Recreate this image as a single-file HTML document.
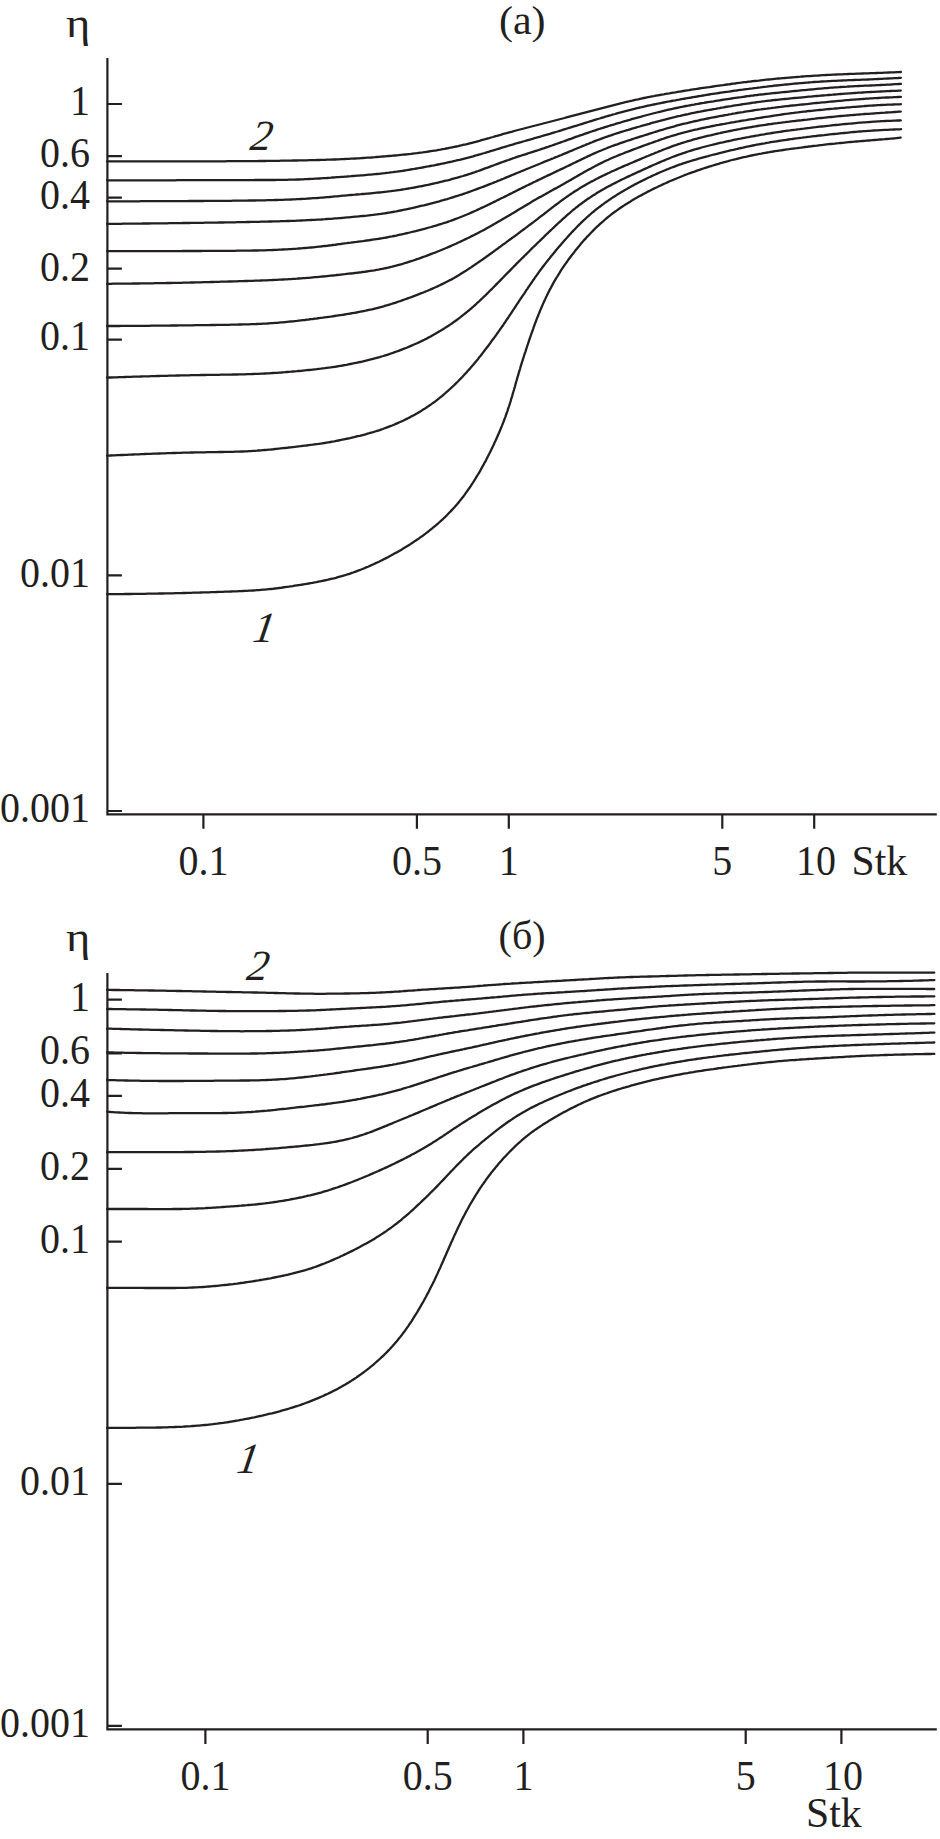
<!DOCTYPE html>
<html><head><meta charset="utf-8"><style>
html,body{margin:0;padding:0;background:#fff;}
body{width:940px;height:1839px;overflow:hidden;}
svg{display:block;}
text{font-family:"Liberation Serif",serif;font-size:43px;fill:#231f20;}
.i{font-style:italic;}
</style></head><body>
<svg width="940" height="1839" viewBox="0 0 940 1839">

<path d="M107.4 58.0V814.3H936.8" fill="none" stroke="#231f20" stroke-width="2.2"/>
<path d="M107.4 104.0H121.9M107.4 156.2H121.9M107.4 197.7H121.9M107.4 268.7H121.9M107.4 339.6H121.9M107.4 575.4H121.9M107.4 811.0H121.9M203.4 814.3V828.8M416.9 814.3V828.8M508.8 814.3V828.8M722.3 814.3V828.8M814.2 814.3V828.8" fill="none" stroke="#231f20" stroke-width="2.2"/>
<path d="M107.4 973.0V1729.4H936.8" fill="none" stroke="#231f20" stroke-width="2.2"/>
<path d="M107.4 999.6H121.9M107.4 1053.3H121.9M107.4 1095.9H121.9M107.4 1168.8H121.9M107.4 1241.7H121.9M107.4 1483.8H121.9M107.4 1725.9H121.9M205.4 1729.4V1743.9M427.7 1729.4V1743.9M523.4 1729.4V1743.9M745.7 1729.4V1743.9M841.4 1729.4V1743.9" fill="none" stroke="#231f20" stroke-width="2.2"/>
<path d="M107.1 161.4L109.1 161.4L111.1 161.4L113.1 161.4L115.1 161.4L117.1 161.4L119.1 161.4L121.1 161.4L123.1 161.4L125.1 161.4L127.1 161.4L129.1 161.4L131.1 161.4L133.1 161.4L135.1 161.4L137.1 161.4L139.1 161.4L141.1 161.4L143.1 161.4L145.1 161.4L147.1 161.4L149.1 161.4L151.1 161.4L153.1 161.4L155.1 161.4L157.1 161.4L159.1 161.4L161.1 161.4L163.1 161.4L165.1 161.4L167.1 161.4L169.1 161.4L171.1 161.4L173.1 161.4L175.1 161.3L177.1 161.3L179.1 161.3L181.1 161.3L183.1 161.3L185.1 161.3L187.1 161.3L189.1 161.3L191.1 161.3L193.1 161.3L195.1 161.3L197.1 161.3L199.1 161.3L201.1 161.3L203.1 161.3L205.1 161.3L207.1 161.3L209.1 161.3L211.1 161.3L213.1 161.3L215.1 161.3L217.1 161.3L219.1 161.3L221.1 161.3L223.1 161.3L225.1 161.3L227.1 161.2L229.1 161.2L231.1 161.2L233.1 161.2L235.1 161.2L237.1 161.2L239.1 161.2L241.1 161.2L243.1 161.2L245.1 161.2L247.1 161.1L249.1 161.1L251.1 161.1L253.1 161.1L255.1 161.1L257.1 161.1L259.1 161.0L261.1 161.0L263.1 161.0L265.1 161.0L267.1 160.9L269.1 160.9L271.1 160.9L273.1 160.9L275.1 160.8L277.1 160.8L279.1 160.8L281.1 160.7L283.1 160.7L285.1 160.7L287.1 160.6L289.1 160.6L291.1 160.6L293.1 160.5L295.1 160.5L297.1 160.5L299.1 160.4L301.1 160.4L303.1 160.3L305.1 160.3L307.1 160.3L309.1 160.2L311.1 160.2L313.1 160.1L315.1 160.1L317.1 160.0L319.1 160.0L321.1 159.9L323.1 159.9L325.1 159.8L327.1 159.7L329.1 159.7L331.1 159.6L333.1 159.5L335.1 159.5L337.1 159.4L339.0 159.3L341.0 159.2L343.0 159.1L345.0 159.0L347.0 158.9L349.0 158.8L351.0 158.7L353.0 158.6L355.0 158.5L357.0 158.4L359.0 158.3L361.0 158.1L363.0 158.0L365.0 157.9L367.0 157.7L369.0 157.6L371.0 157.5L373.0 157.3L375.0 157.2L377.0 157.0L379.0 156.9L381.0 156.7L383.0 156.5L385.0 156.4L386.9 156.2L388.9 156.0L390.9 155.9L392.9 155.7L394.9 155.5L396.9 155.3L398.9 155.1L400.9 154.9L402.9 154.7L404.9 154.5L406.9 154.3L408.8 154.1L410.8 153.9L412.8 153.6L414.8 153.4L416.8 153.2L418.8 152.9L420.8 152.6L422.7 152.4L424.7 152.1L426.7 151.8L428.7 151.5L430.7 151.2L432.6 150.9L434.6 150.6L436.6 150.3L438.5 149.9L440.5 149.6L442.5 149.2L444.5 148.9L446.4 148.5L448.4 148.1L450.3 147.7L452.3 147.3L454.3 146.9L456.2 146.5L458.2 146.1L460.1 145.6L462.1 145.2L464.0 144.7L466.0 144.3L467.9 143.8L469.8 143.3L471.8 142.8L473.7 142.3L475.7 141.8L477.6 141.3L479.5 140.8L481.4 140.2L483.4 139.7L485.3 139.2L487.2 138.6L489.1 138.1L491.1 137.5L493.0 137.0L494.9 136.4L496.8 135.9L498.8 135.3L500.7 134.8L502.6 134.2L504.5 133.7L506.5 133.2L508.4 132.6L510.3 132.1L512.3 131.6L514.2 131.0L516.1 130.5L518.0 130.0L520.0 129.5L521.9 129.0L523.9 128.5L525.8 128.0L527.7 127.5L529.7 127.0L531.6 126.5L533.5 126.0L535.5 125.5L537.4 125.0L539.4 124.5L541.3 124.0L543.2 123.5L545.2 123.0L547.1 122.5L549.0 122.0L551.0 121.5L552.9 121.0L554.8 120.5L556.8 120.0L558.7 119.5L560.6 119.0L562.6 118.5L564.5 118.0L566.4 117.4L568.4 116.9L570.3 116.4L572.2 115.9L574.2 115.4L576.1 114.9L578.0 114.4L580.0 113.8L581.9 113.3L583.8 112.8L585.8 112.3L587.7 111.8L589.6 111.3L591.6 110.8L593.5 110.3L595.4 109.8L597.4 109.3L599.3 108.8L601.2 108.3L603.2 107.8L605.1 107.3L607.1 106.8L609.0 106.3L610.9 105.8L612.9 105.3L614.8 104.8L616.8 104.3L618.7 103.8L620.6 103.3L622.6 102.9L624.5 102.4L626.5 101.9L628.4 101.5L630.4 101.0L632.3 100.6L634.3 100.1L636.2 99.7L638.2 99.3L640.1 98.8L642.1 98.4L644.0 98.0L646.0 97.6L648.0 97.2L649.9 96.8L651.9 96.4L653.8 96.1L655.8 95.7L657.8 95.3L659.7 95.0L661.7 94.6L663.7 94.3L665.7 93.9L667.6 93.6L669.6 93.3L671.6 92.9L673.5 92.6L675.5 92.3L677.5 91.9L679.5 91.6L681.4 91.3L683.4 91.0L685.4 90.7L687.4 90.4L689.3 90.1L691.3 89.7L693.3 89.4L695.3 89.1L697.2 88.8L699.2 88.5L701.2 88.2L703.2 87.9L705.2 87.6L707.1 87.3L709.1 87.1L711.1 86.8L713.1 86.5L715.0 86.2L717.0 85.9L719.0 85.6L721.0 85.3L723.0 85.1L724.9 84.8L726.9 84.5L728.9 84.3L730.9 84.0L732.9 83.7L734.9 83.5L736.8 83.2L738.8 82.9L740.8 82.7L742.8 82.4L744.8 82.2L746.8 82.0L748.7 81.7L750.7 81.5L752.7 81.2L754.7 81.0L756.7 80.8L758.7 80.6L760.7 80.3L762.7 80.1L764.6 79.9L766.6 79.7L768.6 79.5L770.6 79.3L772.6 79.1L774.6 78.9L776.6 78.7L778.6 78.5L780.6 78.3L782.6 78.1L784.6 78.0L786.5 77.8L788.5 77.6L790.5 77.5L792.5 77.3L794.5 77.1L796.5 77.0L798.5 76.8L800.5 76.7L802.5 76.5L804.5 76.4L806.5 76.2L808.5 76.1L810.5 76.0L812.5 75.8L814.5 75.7L816.5 75.6L818.5 75.5L820.5 75.3L822.5 75.2L824.4 75.1L826.4 75.0L828.4 74.9L830.4 74.8L832.4 74.7L834.4 74.6L836.4 74.5L838.4 74.4L840.4 74.3L842.4 74.3L844.4 74.2L846.4 74.1L848.4 74.0L850.4 73.9L852.4 73.9L854.4 73.8L856.4 73.7L858.4 73.6L860.4 73.6L862.4 73.5L864.4 73.4L866.4 73.4L868.4 73.3L870.4 73.2L872.4 73.1L874.4 73.1L876.4 73.0L878.4 72.9L880.4 72.8L882.4 72.8L884.4 72.7L886.4 72.6L888.4 72.5L890.4 72.4L892.4 72.4L894.4 72.3L896.4 72.2L898.4 72.1L900.4 72.0L900.9 72.0" fill="none" stroke="#231f20" stroke-width="2.3" stroke-linecap="round" stroke-linejoin="round"/>
<path d="M107.1 180.3L109.1 180.3L111.1 180.3L113.1 180.3L115.1 180.3L117.1 180.3L119.1 180.3L121.1 180.3L123.1 180.3L125.1 180.3L127.1 180.3L129.1 180.3L131.1 180.3L133.1 180.3L135.1 180.3L137.1 180.3L139.1 180.3L141.1 180.3L143.1 180.3L145.1 180.3L147.1 180.3L149.1 180.3L151.1 180.3L153.1 180.3L155.1 180.3L157.1 180.3L159.1 180.3L161.1 180.3L163.1 180.3L165.1 180.3L167.1 180.3L169.1 180.3L171.1 180.3L173.1 180.3L175.1 180.3L177.1 180.2L179.1 180.2L181.1 180.2L183.1 180.2L185.1 180.2L187.1 180.2L189.1 180.2L191.1 180.2L193.1 180.2L195.1 180.2L197.1 180.2L199.1 180.2L201.1 180.2L203.1 180.2L205.1 180.2L207.1 180.2L209.1 180.2L211.1 180.2L213.1 180.2L215.1 180.2L217.1 180.2L219.1 180.1L221.1 180.1L223.1 180.1L225.1 180.1L227.1 180.1L229.1 180.1L231.1 180.1L233.1 180.1L235.1 180.1L237.1 180.1L239.1 180.1L241.1 180.1L243.1 180.1L245.1 180.1L247.1 180.1L249.1 180.1L251.1 180.1L253.1 180.1L255.1 180.0L257.1 180.0L259.1 180.0L261.1 180.0L263.1 180.0L265.1 180.0L267.1 180.0L269.1 180.0L271.1 180.0L273.1 180.0L275.1 180.0L277.1 179.9L279.1 179.9L281.1 179.9L283.1 179.9L285.1 179.8L287.1 179.8L289.1 179.7L291.1 179.7L293.1 179.7L295.1 179.6L297.1 179.5L299.1 179.5L301.1 179.4L303.1 179.3L305.1 179.2L307.1 179.1L309.1 179.0L311.1 178.9L313.1 178.8L315.0 178.7L317.0 178.6L319.0 178.5L321.0 178.4L323.0 178.2L325.0 178.1L327.0 178.0L329.0 177.8L331.0 177.7L333.0 177.5L335.0 177.4L337.0 177.2L339.0 177.1L341.0 176.9L343.0 176.8L345.0 176.6L347.0 176.5L349.0 176.3L351.0 176.2L353.0 176.0L354.9 175.9L356.9 175.7L358.9 175.6L360.9 175.4L362.9 175.3L364.9 175.1L366.9 174.9L368.9 174.7L370.9 174.6L372.9 174.4L374.9 174.2L376.9 174.0L378.9 173.8L380.8 173.6L382.8 173.4L384.8 173.2L386.8 172.9L388.8 172.7L390.8 172.4L392.8 172.2L394.7 171.9L396.7 171.7L398.7 171.4L400.7 171.1L402.7 170.8L404.6 170.5L406.6 170.2L408.6 169.8L410.6 169.5L412.5 169.2L414.5 168.9L416.5 168.5L418.4 168.2L420.4 167.8L422.4 167.5L424.4 167.1L426.3 166.7L428.3 166.4L430.3 166.0L432.2 165.6L434.2 165.3L436.1 164.9L438.1 164.5L440.1 164.1L442.0 163.7L444.0 163.3L445.9 162.9L447.9 162.4L449.8 162.0L451.8 161.6L453.8 161.1L455.7 160.7L457.6 160.2L459.6 159.8L461.5 159.3L463.5 158.8L465.4 158.3L467.3 157.8L469.3 157.3L471.2 156.8L473.1 156.3L475.1 155.7L477.0 155.2L478.9 154.6L480.8 154.1L482.8 153.5L484.7 153.0L486.6 152.4L488.5 151.8L490.4 151.2L492.3 150.7L494.3 150.1L496.2 149.5L498.1 148.9L500.0 148.3L501.9 147.7L503.8 147.2L505.7 146.6L507.7 146.0L509.6 145.4L511.5 144.9L513.4 144.3L515.3 143.7L517.2 143.2L519.2 142.6L521.1 142.1L523.0 141.5L524.9 141.0L526.9 140.4L528.8 139.9L530.7 139.3L532.6 138.8L534.5 138.2L536.5 137.7L538.4 137.1L540.3 136.6L542.2 136.0L544.2 135.4L546.1 134.9L548.0 134.3L549.9 133.8L551.8 133.2L553.7 132.6L555.7 132.0L557.6 131.5L559.5 130.9L561.4 130.3L563.3 129.7L565.2 129.1L567.1 128.5L569.0 127.9L571.0 127.3L572.9 126.7L574.8 126.1L576.7 125.6L578.6 125.0L580.5 124.4L582.4 123.8L584.3 123.2L586.2 122.6L588.1 122.0L590.0 121.4L592.0 120.8L593.9 120.2L595.8 119.6L597.7 119.0L599.6 118.5L601.5 117.9L603.4 117.3L605.4 116.7L607.3 116.2L609.2 115.6L611.1 115.1L613.0 114.5L615.0 114.0L616.9 113.4L618.8 112.9L620.7 112.4L622.7 111.8L624.6 111.3L626.5 110.8L628.5 110.3L630.4 109.8L632.4 109.3L634.3 108.9L636.2 108.4L638.2 107.9L640.1 107.5L642.1 107.0L644.0 106.6L646.0 106.1L647.9 105.7L649.9 105.3L651.9 104.9L653.8 104.5L655.8 104.1L657.7 103.7L659.7 103.3L661.7 102.9L663.6 102.5L665.6 102.1L667.5 101.7L669.5 101.4L671.5 101.0L673.4 100.6L675.4 100.3L677.4 99.9L679.3 99.6L681.3 99.2L683.3 98.8L685.2 98.5L687.2 98.2L689.2 97.8L691.2 97.5L693.1 97.1L695.1 96.8L697.1 96.5L699.0 96.1L701.0 95.8L703.0 95.5L705.0 95.2L706.9 94.8L708.9 94.5L710.9 94.2L712.9 93.9L714.8 93.6L716.8 93.3L718.8 93.0L720.8 92.7L722.8 92.4L724.7 92.1L726.7 91.8L728.7 91.6L730.7 91.3L732.7 91.0L734.6 90.7L736.6 90.5L738.6 90.2L740.6 89.9L742.6 89.7L744.6 89.4L746.5 89.1L748.5 88.9L750.5 88.6L752.5 88.4L754.5 88.1L756.5 87.9L758.4 87.6L760.4 87.4L762.4 87.1L764.4 86.9L766.4 86.7L768.4 86.4L770.4 86.2L772.3 86.0L774.3 85.7L776.3 85.5L778.3 85.3L780.3 85.1L782.3 84.9L784.3 84.7L786.3 84.5L788.2 84.3L790.2 84.1L792.2 83.9L794.2 83.7L796.2 83.5L798.2 83.3L800.2 83.1L802.2 83.0L804.2 82.8L806.2 82.6L808.2 82.5L810.2 82.3L812.2 82.2L814.2 82.0L816.1 81.9L818.1 81.8L820.1 81.6L822.1 81.5L824.1 81.4L826.1 81.3L828.1 81.2L830.1 81.1L832.1 80.9L834.1 80.8L836.1 80.8L838.1 80.7L840.1 80.6L842.1 80.5L844.1 80.4L846.1 80.3L848.1 80.2L850.1 80.2L852.1 80.1L854.1 80.0L856.1 79.9L858.1 79.9L860.1 79.8L862.1 79.7L864.1 79.6L866.1 79.6L868.1 79.5L870.1 79.4L872.1 79.3L874.1 79.2L876.1 79.1L878.1 79.0L880.1 78.9L882.1 78.8L884.1 78.7L886.1 78.6L888.1 78.5L890.1 78.4L892.1 78.3L894.1 78.2L896.1 78.1L898.0 78.0L900.0 77.8L900.9 77.8" fill="none" stroke="#231f20" stroke-width="2.3" stroke-linecap="round" stroke-linejoin="round"/>
<path d="M107.1 201.3L109.1 201.3L111.1 201.3L113.1 201.3L115.1 201.3L117.1 201.3L119.1 201.3L121.1 201.3L123.1 201.3L125.1 201.3L127.1 201.3L129.1 201.3L131.1 201.3L133.1 201.3L135.1 201.3L137.1 201.3L139.1 201.3L141.1 201.2L143.1 201.2L145.1 201.2L147.1 201.2L149.1 201.2L151.1 201.2L153.1 201.2L155.1 201.2L157.1 201.2L159.1 201.2L161.1 201.2L163.1 201.2L165.1 201.2L167.1 201.2L169.1 201.1L171.1 201.1L173.1 201.1L175.1 201.1L177.1 201.1L179.1 201.1L181.1 201.1L183.1 201.1L185.1 201.1L187.1 201.1L189.1 201.0L191.1 201.0L193.1 201.0L195.1 201.0L197.1 201.0L199.1 201.0L201.1 201.0L203.1 201.0L205.1 200.9L207.1 200.9L209.1 200.9L211.1 200.9L213.1 200.9L215.1 200.9L217.1 200.9L219.1 200.9L221.1 200.8L223.1 200.8L225.1 200.8L227.1 200.8L229.1 200.8L231.1 200.8L233.1 200.7L235.1 200.7L237.1 200.7L239.1 200.7L241.1 200.7L243.1 200.6L245.1 200.6L247.1 200.6L249.1 200.5L251.1 200.5L253.1 200.5L255.1 200.5L257.1 200.4L259.1 200.4L261.1 200.4L263.1 200.3L265.1 200.3L267.1 200.2L269.1 200.2L271.1 200.1L273.1 200.1L275.1 200.0L277.1 200.0L279.1 199.9L281.1 199.9L283.1 199.8L285.1 199.7L287.1 199.6L289.1 199.6L291.1 199.5L293.1 199.4L295.0 199.3L297.0 199.2L299.0 199.1L301.0 199.0L303.0 198.9L305.0 198.8L307.0 198.6L309.0 198.5L311.0 198.4L313.0 198.2L315.0 198.1L317.0 198.0L319.0 197.8L321.0 197.6L323.0 197.5L325.0 197.3L327.0 197.1L329.0 197.0L331.0 196.8L333.0 196.6L334.9 196.4L336.9 196.3L338.9 196.1L340.9 195.9L342.9 195.7L344.9 195.6L346.9 195.4L348.9 195.2L350.9 195.0L352.9 194.8L354.9 194.7L356.9 194.5L358.9 194.3L360.8 194.2L362.8 194.0L364.8 193.8L366.8 193.6L368.8 193.5L370.8 193.3L372.8 193.1L374.8 192.9L376.8 192.7L378.8 192.5L380.8 192.3L382.7 192.1L384.7 191.9L386.7 191.7L388.7 191.4L390.7 191.2L392.7 190.9L394.7 190.7L396.6 190.4L398.6 190.1L400.6 189.8L402.6 189.5L404.5 189.2L406.5 188.8L408.5 188.5L410.5 188.2L412.4 187.8L414.4 187.5L416.4 187.1L418.3 186.7L420.3 186.3L422.3 186.0L424.2 185.6L426.2 185.2L428.1 184.8L430.1 184.3L432.0 183.9L434.0 183.5L436.0 183.0L437.9 182.6L439.8 182.1L441.8 181.7L443.7 181.2L445.7 180.7L447.6 180.3L449.6 179.8L451.5 179.2L453.4 178.7L455.4 178.2L457.3 177.7L459.2 177.1L461.1 176.5L463.0 176.0L464.9 175.4L466.9 174.8L468.8 174.2L470.7 173.6L472.6 172.9L474.5 172.3L476.3 171.6L478.2 171.0L480.1 170.3L482.0 169.6L483.9 168.9L485.8 168.2L487.6 167.6L489.5 166.9L491.4 166.2L493.3 165.5L495.1 164.8L497.0 164.1L498.9 163.4L500.8 162.7L502.6 162.0L504.5 161.3L506.4 160.6L508.3 160.0L510.2 159.3L512.1 158.7L514.0 158.0L515.8 157.4L517.7 156.7L519.6 156.1L521.5 155.5L523.4 154.9L525.4 154.3L527.3 153.6L529.2 153.0L531.1 152.4L533.0 151.8L534.9 151.2L536.8 150.6L538.7 150.0L540.6 149.3L542.5 148.7L544.4 148.1L546.3 147.4L548.2 146.8L550.0 146.1L551.9 145.5L553.8 144.8L555.7 144.2L557.6 143.5L559.5 142.8L561.4 142.1L563.2 141.5L565.1 140.8L567.0 140.1L568.9 139.4L570.8 138.8L572.7 138.1L574.5 137.4L576.4 136.7L578.3 136.1L580.2 135.4L582.1 134.8L584.0 134.1L585.9 133.4L587.8 132.8L589.7 132.2L591.6 131.5L593.4 130.9L595.3 130.3L597.2 129.6L599.2 129.0L601.1 128.4L603.0 127.8L604.9 127.2L606.8 126.6L608.7 126.0L610.6 125.4L612.5 124.8L614.4 124.3L616.3 123.7L618.3 123.1L620.2 122.6L622.1 122.0L624.0 121.4L625.9 120.9L627.9 120.3L629.8 119.8L631.7 119.2L633.6 118.7L635.6 118.2L637.5 117.6L639.4 117.1L641.3 116.6L643.3 116.0L645.2 115.5L647.1 115.0L649.1 114.5L651.0 114.0L652.9 113.5L654.9 113.0L656.8 112.5L658.8 112.0L660.7 111.6L662.7 111.1L664.6 110.6L666.5 110.2L668.5 109.7L670.4 109.3L672.4 108.9L674.4 108.4L676.3 108.0L678.3 107.6L680.2 107.2L682.2 106.8L684.1 106.4L686.1 106.0L688.1 105.7L690.0 105.3L692.0 104.9L694.0 104.6L695.9 104.2L697.9 103.9L699.9 103.5L701.9 103.2L703.8 102.9L705.8 102.5L707.8 102.2L709.8 101.9L711.7 101.6L713.7 101.3L715.7 100.9L717.7 100.6L719.6 100.3L721.6 100.0L723.6 99.7L725.6 99.4L727.5 99.1L729.5 98.8L731.5 98.5L733.5 98.2L735.4 97.9L737.4 97.6L739.4 97.3L741.4 97.1L743.4 96.8L745.3 96.5L747.3 96.2L749.3 96.0L751.3 95.7L753.3 95.5L755.3 95.2L757.2 95.0L759.2 94.7L761.2 94.5L763.2 94.3L765.2 94.0L767.2 93.8L769.2 93.6L771.2 93.4L773.1 93.2L775.1 93.0L777.1 92.8L779.1 92.6L781.1 92.4L783.1 92.2L785.1 92.0L787.1 91.8L789.1 91.6L791.1 91.4L793.0 91.2L795.0 91.0L797.0 90.8L799.0 90.6L801.0 90.4L803.0 90.2L805.0 90.1L807.0 89.9L809.0 89.7L811.0 89.5L813.0 89.3L814.9 89.1L816.9 88.9L818.9 88.7L820.9 88.6L822.9 88.4L824.9 88.2L826.9 88.1L828.9 87.9L830.9 87.7L832.9 87.6L834.9 87.4L836.9 87.3L838.9 87.2L840.9 87.0L842.9 86.9L844.9 86.8L846.9 86.7L848.8 86.5L850.8 86.4L852.8 86.3L854.8 86.2L856.8 86.1L858.8 86.0L860.8 85.9L862.8 85.8L864.8 85.7L866.8 85.6L868.8 85.6L870.8 85.5L872.8 85.4L874.8 85.3L876.8 85.2L878.8 85.1L880.8 85.0L882.8 84.9L884.8 84.8L886.8 84.7L888.8 84.6L890.8 84.5L892.8 84.3L894.8 84.2L896.8 84.1L898.8 84.0L900.8 83.9L901.0 83.9" fill="none" stroke="#231f20" stroke-width="2.3" stroke-linecap="round" stroke-linejoin="round"/>
<path d="M107.1 223.9L109.1 223.9L111.1 223.9L113.1 223.8L115.1 223.8L117.1 223.8L119.1 223.8L121.1 223.8L123.1 223.7L125.1 223.7L127.1 223.7L129.1 223.7L131.1 223.7L133.1 223.6L135.1 223.6L137.1 223.6L139.1 223.6L141.1 223.6L143.1 223.5L145.1 223.5L147.1 223.5L149.1 223.5L151.1 223.4L153.1 223.4L155.1 223.4L157.1 223.4L159.1 223.4L161.1 223.3L163.1 223.3L165.1 223.3L167.1 223.3L169.1 223.2L171.1 223.2L173.1 223.2L175.1 223.2L177.1 223.1L179.1 223.1L181.1 223.1L183.1 223.0L185.1 223.0L187.1 223.0L189.1 223.0L191.1 222.9L193.1 222.9L195.1 222.9L197.1 222.9L199.1 222.8L201.1 222.8L203.1 222.8L205.1 222.7L207.1 222.7L209.1 222.7L211.1 222.6L213.1 222.6L215.1 222.6L217.1 222.6L219.1 222.5L221.1 222.5L223.1 222.5L225.1 222.4L227.1 222.4L229.1 222.4L231.1 222.3L233.1 222.3L235.1 222.3L237.1 222.2L239.1 222.2L241.1 222.1L243.1 222.1L245.1 222.1L247.1 222.0L249.1 222.0L251.1 221.9L253.1 221.9L255.1 221.9L257.1 221.8L259.1 221.8L261.1 221.7L263.1 221.7L265.1 221.6L267.1 221.6L269.1 221.5L271.1 221.5L273.1 221.4L275.0 221.4L277.0 221.3L279.0 221.3L281.0 221.2L283.0 221.2L285.0 221.1L287.0 221.0L289.0 221.0L291.0 220.9L293.0 220.8L295.0 220.8L297.0 220.7L299.0 220.6L301.0 220.5L303.0 220.4L305.0 220.3L307.0 220.2L309.0 220.1L311.0 220.0L313.0 219.9L315.0 219.8L317.0 219.7L319.0 219.6L321.0 219.5L323.0 219.3L325.0 219.2L327.0 219.0L329.0 218.9L331.0 218.8L333.0 218.6L335.0 218.4L337.0 218.3L339.0 218.1L340.9 218.0L342.9 217.8L344.9 217.6L346.9 217.4L348.9 217.3L350.9 217.1L352.9 216.9L354.9 216.7L356.9 216.6L358.9 216.4L360.9 216.2L362.9 216.0L364.8 215.8L366.8 215.6L368.8 215.3L370.8 215.1L372.8 214.9L374.8 214.6L376.8 214.4L378.8 214.1L380.7 213.9L382.7 213.6L384.7 213.3L386.7 213.0L388.6 212.6L390.6 212.3L392.6 212.0L394.6 211.6L396.5 211.3L398.5 210.9L400.4 210.5L402.4 210.1L404.4 209.7L406.3 209.3L408.3 208.9L410.2 208.5L412.2 208.0L414.1 207.6L416.1 207.1L418.0 206.7L420.0 206.2L421.9 205.7L423.9 205.3L425.8 204.8L427.8 204.3L429.7 203.8L431.6 203.3L433.6 202.8L435.5 202.3L437.4 201.8L439.4 201.3L441.3 200.7L443.2 200.2L445.1 199.6L447.1 199.1L449.0 198.5L450.9 197.9L452.8 197.3L454.7 196.7L456.6 196.1L458.5 195.5L460.4 194.9L462.3 194.3L464.2 193.6L466.1 193.0L468.0 192.3L469.9 191.7L471.8 191.0L473.6 190.3L475.5 189.6L477.4 188.9L479.3 188.2L481.1 187.5L483.0 186.8L484.9 186.1L486.7 185.4L488.6 184.6L490.5 183.9L492.3 183.2L494.2 182.4L496.0 181.7L497.9 180.9L499.7 180.2L501.6 179.4L503.4 178.7L505.3 177.9L507.1 177.1L509.0 176.4L510.8 175.6L512.7 174.8L514.5 174.1L516.4 173.3L518.2 172.5L520.1 171.8L521.9 171.0L523.8 170.3L525.6 169.5L527.5 168.7L529.3 168.0L531.2 167.2L533.0 166.5L534.9 165.7L536.7 165.0L538.6 164.2L540.4 163.5L542.3 162.7L544.1 161.9L546.0 161.2L547.9 160.4L549.7 159.7L551.6 158.9L553.4 158.2L555.3 157.4L557.1 156.7L559.0 155.9L560.8 155.2L562.7 154.4L564.5 153.6L566.4 152.9L568.2 152.1L570.1 151.3L571.9 150.6L573.7 149.8L575.6 149.0L577.4 148.2L579.3 147.5L581.1 146.7L583.0 145.9L584.8 145.2L586.7 144.4L588.5 143.7L590.4 142.9L592.2 142.2L594.1 141.4L596.0 140.7L597.8 140.0L599.7 139.3L601.6 138.6L603.5 137.9L605.3 137.2L607.2 136.6L609.1 135.9L611.0 135.3L612.9 134.6L614.8 134.0L616.7 133.4L618.6 132.8L620.5 132.2L622.4 131.6L624.3 131.0L626.3 130.4L628.2 129.9L630.1 129.3L632.0 128.7L633.9 128.2L635.8 127.6L637.8 127.0L639.7 126.5L641.6 125.9L643.5 125.4L645.5 124.8L647.4 124.3L649.3 123.8L651.2 123.2L653.2 122.7L655.1 122.2L657.0 121.6L659.0 121.1L660.9 120.6L662.8 120.1L664.8 119.6L666.7 119.1L668.6 118.6L670.6 118.1L672.5 117.6L674.5 117.2L676.4 116.7L678.3 116.2L680.3 115.8L682.2 115.3L684.2 114.9L686.2 114.5L688.1 114.1L690.1 113.6L692.0 113.2L694.0 112.8L695.9 112.4L697.9 112.0L699.9 111.7L701.8 111.3L703.8 110.9L705.8 110.5L707.7 110.2L709.7 109.8L711.7 109.5L713.6 109.1L715.6 108.8L717.6 108.4L719.5 108.1L721.5 107.7L723.5 107.4L725.5 107.0L727.4 106.7L729.4 106.4L731.4 106.1L733.3 105.7L735.3 105.4L737.3 105.1L739.3 104.8L741.2 104.5L743.2 104.2L745.2 103.9L747.2 103.6L749.2 103.3L751.1 103.0L753.1 102.7L755.1 102.5L757.1 102.2L759.1 101.9L761.0 101.7L763.0 101.4L765.0 101.2L767.0 100.9L769.0 100.7L771.0 100.5L773.0 100.2L775.0 100.0L776.9 99.8L778.9 99.6L780.9 99.4L782.9 99.2L784.9 99.0L786.9 98.8L788.9 98.6L790.9 98.4L792.9 98.2L794.8 98.0L796.8 97.8L798.8 97.6L800.8 97.5L802.8 97.3L804.8 97.1L806.8 96.9L808.8 96.7L810.8 96.6L812.8 96.4L814.8 96.2L816.8 96.0L818.8 95.9L820.7 95.7L822.7 95.5L824.7 95.3L826.7 95.2L828.7 95.0L830.7 94.8L832.7 94.7L834.7 94.5L836.7 94.4L838.7 94.2L840.7 94.0L842.7 93.9L844.7 93.7L846.7 93.6L848.7 93.4L850.6 93.3L852.6 93.1L854.6 93.0L856.6 92.9L858.6 92.7L860.6 92.6L862.6 92.5L864.6 92.4L866.6 92.2L868.6 92.1L870.6 92.0L872.6 91.9L874.6 91.8L876.6 91.7L878.6 91.6L880.6 91.5L882.6 91.4L884.6 91.3L886.6 91.2L888.6 91.1L890.6 91.0L892.6 90.9L894.6 90.9L896.6 90.8L898.6 90.7L900.6 90.6L900.8 90.6" fill="none" stroke="#231f20" stroke-width="2.3" stroke-linecap="round" stroke-linejoin="round"/>
<path d="M107.1 251.2L109.1 251.2L111.1 251.2L113.1 251.2L115.1 251.2L117.1 251.2L119.1 251.2L121.1 251.2L123.1 251.2L125.1 251.2L127.1 251.2L129.1 251.2L131.1 251.2L133.1 251.2L135.1 251.2L137.1 251.2L139.1 251.2L141.1 251.2L143.1 251.2L145.1 251.2L147.1 251.2L149.1 251.2L151.1 251.1L153.1 251.1L155.1 251.1L157.1 251.1L159.1 251.1L161.1 251.1L163.1 251.1L165.1 251.1L167.1 251.1L169.1 251.1L171.1 251.1L173.1 251.1L175.1 251.1L177.1 251.1L179.1 251.1L181.1 251.1L183.1 251.0L185.1 251.0L187.1 251.0L189.1 251.0L191.1 251.0L193.1 251.0L195.1 251.0L197.1 251.0L199.1 251.0L201.1 251.0L203.1 250.9L205.1 250.9L207.1 250.9L209.1 250.9L211.1 250.9L213.1 250.9L215.1 250.9L217.1 250.9L219.1 250.9L221.1 250.9L223.1 250.8L225.1 250.8L227.1 250.8L229.1 250.8L231.1 250.8L233.1 250.8L235.1 250.8L237.1 250.7L239.1 250.7L241.1 250.7L243.1 250.7L245.1 250.7L247.1 250.6L249.1 250.6L251.1 250.6L253.1 250.5L255.1 250.5L257.1 250.5L259.1 250.4L261.1 250.4L263.1 250.3L265.1 250.3L267.1 250.2L269.1 250.1L271.1 250.1L273.1 250.0L275.1 249.9L277.1 249.8L279.1 249.7L281.1 249.6L283.1 249.5L285.0 249.4L287.0 249.3L289.0 249.2L291.0 249.1L293.0 248.9L295.0 248.8L297.0 248.7L299.0 248.5L301.0 248.4L303.0 248.2L305.0 248.0L307.0 247.9L309.0 247.7L311.0 247.5L313.0 247.3L315.0 247.1L316.9 246.9L318.9 246.7L320.9 246.5L322.9 246.2L324.9 246.0L326.9 245.8L328.9 245.5L330.8 245.3L332.8 245.0L334.8 244.8L336.8 244.5L338.8 244.2L340.8 244.0L342.7 243.7L344.7 243.4L346.7 243.2L348.7 242.9L350.7 242.7L352.7 242.4L354.6 242.1L356.6 241.9L358.6 241.6L360.6 241.3L362.6 241.1L364.6 240.8L366.5 240.5L368.5 240.3L370.5 240.0L372.5 239.7L374.5 239.4L376.4 239.1L378.4 238.8L380.4 238.5L382.4 238.2L384.3 237.8L386.3 237.5L388.3 237.1L390.2 236.7L392.2 236.4L394.2 236.0L396.1 235.6L398.1 235.1L400.0 234.7L402.0 234.3L403.9 233.9L405.9 233.4L407.8 233.0L409.8 232.5L411.7 232.0L413.7 231.5L415.6 231.1L417.5 230.6L419.5 230.1L421.4 229.6L423.3 229.1L425.3 228.6L427.2 228.0L429.1 227.5L431.1 227.0L433.0 226.4L434.9 225.9L436.8 225.3L438.7 224.7L440.7 224.1L442.6 223.5L444.5 222.9L446.4 222.3L448.3 221.6L450.1 221.0L452.0 220.3L453.9 219.6L455.8 218.9L457.6 218.2L459.5 217.5L461.4 216.7L463.2 216.0L465.1 215.2L466.9 214.5L468.8 213.7L470.6 212.9L472.4 212.1L474.3 211.3L476.1 210.5L477.9 209.6L479.7 208.8L481.5 207.9L483.3 207.1L485.2 206.2L487.0 205.4L488.8 204.5L490.6 203.6L492.4 202.8L494.2 201.9L496.0 201.0L497.7 200.1L499.5 199.2L501.3 198.3L503.1 197.5L504.9 196.6L506.7 195.7L508.5 194.8L510.3 193.9L512.1 193.0L513.8 192.1L515.6 191.2L517.4 190.3L519.2 189.4L521.0 188.5L522.8 187.6L524.6 186.7L526.4 185.8L528.2 185.0L530.0 184.1L531.8 183.2L533.6 182.3L535.4 181.5L537.2 180.6L539.0 179.7L540.8 178.9L542.6 178.0L544.4 177.1L546.2 176.3L548.0 175.4L549.8 174.6L551.6 173.7L553.4 172.9L555.2 172.0L557.0 171.1L558.8 170.3L560.7 169.4L562.5 168.6L564.3 167.7L566.1 166.8L567.9 166.0L569.7 165.1L571.5 164.2L573.3 163.3L575.1 162.5L576.9 161.6L578.7 160.7L580.5 159.9L582.3 159.0L584.1 158.1L585.9 157.3L587.7 156.4L589.5 155.6L591.3 154.7L593.1 153.9L595.0 153.1L596.8 152.3L598.6 151.5L600.5 150.7L602.3 150.0L604.2 149.2L606.0 148.5L607.9 147.7L609.8 147.0L611.6 146.3L613.5 145.6L615.4 144.9L617.3 144.3L619.2 143.6L621.0 142.9L622.9 142.3L624.8 141.7L626.7 141.0L628.6 140.4L630.5 139.8L632.4 139.1L634.3 138.5L636.2 137.9L638.1 137.3L640.0 136.7L642.0 136.1L643.9 135.5L645.8 134.9L647.7 134.3L649.6 133.7L651.5 133.1L653.4 132.5L655.3 131.9L657.2 131.3L659.1 130.7L661.0 130.1L663.0 129.6L664.9 129.0L666.8 128.4L668.7 127.9L670.6 127.3L672.6 126.8L674.5 126.3L676.4 125.7L678.4 125.2L680.3 124.7L682.2 124.2L684.2 123.7L686.1 123.3L688.1 122.8L690.0 122.3L692.0 121.9L693.9 121.4L695.9 121.0L697.8 120.6L699.8 120.1L701.7 119.7L703.7 119.3L705.6 118.9L707.6 118.5L709.6 118.1L711.5 117.7L713.5 117.3L715.4 117.0L717.4 116.6L719.4 116.2L721.3 115.8L723.3 115.5L725.3 115.1L727.2 114.8L729.2 114.4L731.2 114.1L733.1 113.7L735.1 113.4L737.1 113.0L739.1 112.7L741.0 112.4L743.0 112.1L745.0 111.7L747.0 111.4L748.9 111.1L750.9 110.8L752.9 110.5L754.9 110.2L756.8 109.9L758.8 109.6L760.8 109.4L762.8 109.1L764.8 108.8L766.8 108.6L768.7 108.3L770.7 108.1L772.7 107.8L774.7 107.6L776.7 107.3L778.7 107.1L780.7 106.9L782.6 106.6L784.6 106.4L786.6 106.2L788.6 106.0L790.6 105.7L792.6 105.5L794.6 105.3L796.6 105.1L798.5 104.9L800.5 104.7L802.5 104.5L804.5 104.3L806.5 104.1L808.5 103.9L810.5 103.6L812.5 103.4L814.5 103.2L816.4 103.0L818.4 102.8L820.4 102.6L822.4 102.4L824.4 102.3L826.4 102.1L828.4 101.9L830.4 101.7L832.4 101.5L834.4 101.3L836.4 101.1L838.3 100.9L840.3 100.8L842.3 100.6L844.3 100.4L846.3 100.2L848.3 100.1L850.3 99.9L852.3 99.7L854.3 99.6L856.3 99.4L858.3 99.3L860.3 99.1L862.3 99.0L864.3 98.8L866.3 98.7L868.3 98.6L870.2 98.4L872.2 98.3L874.2 98.2L876.2 98.1L878.2 98.0L880.2 97.9L882.2 97.7L884.2 97.6L886.2 97.5L888.2 97.5L890.2 97.4L892.2 97.3L894.2 97.2L896.2 97.1L898.2 97.0L900.2 96.9L900.9 96.9" fill="none" stroke="#231f20" stroke-width="2.3" stroke-linecap="round" stroke-linejoin="round"/>
<path d="M107.1 283.8L109.1 283.8L111.1 283.8L113.1 283.7L115.1 283.7L117.1 283.7L119.1 283.7L121.1 283.7L123.1 283.7L125.1 283.6L127.1 283.6L129.1 283.6L131.1 283.6L133.1 283.5L135.1 283.5L137.1 283.5L139.1 283.5L141.1 283.4L143.1 283.4L145.1 283.4L147.1 283.4L149.1 283.3L151.1 283.3L153.1 283.3L155.1 283.2L157.1 283.2L159.1 283.2L161.1 283.1L163.1 283.1L165.1 283.1L167.1 283.0L169.1 283.0L171.1 283.0L173.1 282.9L175.1 282.9L177.1 282.9L179.1 282.8L181.1 282.8L183.1 282.7L185.1 282.7L187.1 282.6L189.1 282.6L191.1 282.5L193.1 282.5L195.1 282.4L197.1 282.4L199.1 282.3L201.1 282.3L203.1 282.2L205.1 282.2L207.1 282.1L209.1 282.1L211.1 282.0L213.1 282.0L215.1 281.9L217.1 281.9L219.1 281.8L221.1 281.7L223.0 281.7L225.0 281.6L227.0 281.6L229.0 281.5L231.0 281.5L233.0 281.4L235.0 281.3L237.0 281.3L239.0 281.2L241.0 281.2L243.0 281.1L245.0 281.0L247.0 281.0L249.0 280.9L251.0 280.8L253.0 280.8L255.0 280.7L257.0 280.6L259.0 280.6L261.0 280.5L263.0 280.4L265.0 280.3L267.0 280.3L269.0 280.2L271.0 280.1L273.0 280.0L275.0 279.9L277.0 279.8L279.0 279.7L281.0 279.6L283.0 279.5L285.0 279.4L287.0 279.3L289.0 279.2L291.0 279.1L293.0 278.9L295.0 278.8L297.0 278.7L299.0 278.5L301.0 278.4L303.0 278.2L305.0 278.1L307.0 277.9L308.9 277.8L310.9 277.6L312.9 277.4L314.9 277.2L316.9 277.1L318.9 276.9L320.9 276.7L322.9 276.5L324.9 276.3L326.9 276.1L328.9 275.9L330.8 275.7L332.8 275.5L334.8 275.3L336.8 275.0L338.8 274.8L340.8 274.6L342.8 274.4L344.8 274.2L346.8 273.9L348.7 273.7L350.7 273.5L352.7 273.3L354.7 273.0L356.7 272.8L358.7 272.5L360.7 272.3L362.6 272.0L364.6 271.8L366.6 271.5L368.6 271.2L370.6 270.9L372.5 270.6L374.5 270.3L376.5 269.9L378.5 269.6L380.4 269.2L382.4 268.8L384.3 268.4L386.3 268.0L388.2 267.6L390.2 267.1L392.1 266.7L394.1 266.2L396.0 265.7L397.9 265.1L399.9 264.6L401.8 264.1L403.7 263.5L405.6 262.9L407.5 262.3L409.4 261.7L411.3 261.1L413.3 260.5L415.1 259.9L417.0 259.2L418.9 258.6L420.8 257.9L422.7 257.2L424.6 256.5L426.5 255.8L428.3 255.1L430.2 254.4L432.1 253.7L433.9 253.0L435.8 252.3L437.7 251.5L439.5 250.8L441.4 250.0L443.2 249.2L445.0 248.5L446.9 247.7L448.7 246.9L450.6 246.1L452.4 245.3L454.2 244.5L456.0 243.7L457.9 242.8L459.7 242.0L461.5 241.1L463.3 240.3L465.1 239.4L466.9 238.5L468.7 237.7L470.5 236.8L472.3 235.9L474.1 235.0L475.8 234.1L477.6 233.2L479.4 232.2L481.2 231.3L482.9 230.4L484.7 229.4L486.4 228.5L488.2 227.5L490.0 226.5L491.7 225.6L493.4 224.6L495.2 223.6L496.9 222.6L498.6 221.6L500.4 220.6L502.1 219.6L503.8 218.6L505.5 217.6L507.3 216.5L509.0 215.5L510.7 214.5L512.4 213.4L514.1 212.4L515.8 211.4L517.6 210.3L519.3 209.3L521.0 208.3L522.7 207.3L524.4 206.2L526.1 205.2L527.8 204.2L529.6 203.2L531.3 202.1L533.0 201.1L534.7 200.1L536.5 199.1L538.2 198.1L539.9 197.1L541.7 196.2L543.4 195.2L545.2 194.2L546.9 193.2L548.7 192.3L550.4 191.3L552.2 190.3L553.9 189.3L555.7 188.4L557.4 187.4L559.2 186.4L560.9 185.5L562.7 184.5L564.4 183.5L566.1 182.5L567.9 181.5L569.6 180.5L571.4 179.6L573.1 178.6L574.8 177.6L576.6 176.6L578.3 175.6L580.0 174.6L581.8 173.6L583.5 172.6L585.2 171.6L587.0 170.6L588.7 169.6L590.5 168.7L592.2 167.7L594.0 166.8L595.8 165.8L597.5 164.9L599.3 164.0L601.1 163.1L602.9 162.2L604.7 161.3L606.5 160.5L608.3 159.7L610.2 158.8L612.0 158.0L613.8 157.2L615.7 156.5L617.5 155.7L619.4 154.9L621.2 154.2L623.1 153.5L624.9 152.7L626.8 152.0L628.7 151.3L630.5 150.6L632.4 149.9L634.3 149.2L636.2 148.5L638.0 147.8L639.9 147.1L641.8 146.4L643.7 145.7L645.5 145.0L647.4 144.3L649.3 143.6L651.2 143.0L653.1 142.3L654.9 141.6L656.8 141.0L658.7 140.3L660.6 139.6L662.5 139.0L664.4 138.4L666.3 137.7L668.2 137.1L670.1 136.5L672.0 135.9L673.9 135.3L675.8 134.8L677.8 134.2L679.7 133.7L681.6 133.1L683.5 132.6L685.5 132.1L687.4 131.6L689.4 131.1L691.3 130.6L693.2 130.2L695.2 129.7L697.1 129.3L699.1 128.8L701.0 128.4L703.0 128.0L705.0 127.6L706.9 127.2L708.9 126.8L710.8 126.4L712.8 126.0L714.8 125.6L716.7 125.2L718.7 124.9L720.7 124.5L722.6 124.1L724.6 123.8L726.6 123.4L728.5 123.1L730.5 122.7L732.5 122.4L734.4 122.1L736.4 121.7L738.4 121.4L740.4 121.0L742.3 120.7L744.3 120.4L746.3 120.1L748.3 119.7L750.2 119.4L752.2 119.1L754.2 118.8L756.1 118.4L758.1 118.1L760.1 117.8L762.1 117.5L764.0 117.2L766.0 116.9L768.0 116.6L770.0 116.3L772.0 116.0L773.9 115.7L775.9 115.4L777.9 115.1L779.9 114.8L781.8 114.5L783.8 114.2L785.8 113.9L787.8 113.7L789.8 113.4L791.8 113.1L793.7 112.9L795.7 112.6L797.7 112.4L799.7 112.1L801.7 111.9L803.7 111.7L805.7 111.5L807.6 111.2L809.6 111.0L811.6 110.8L813.6 110.6L815.6 110.4L817.6 110.2L819.6 110.0L821.6 109.8L823.6 109.6L825.5 109.4L827.5 109.2L829.5 109.0L831.5 108.8L833.5 108.7L835.5 108.5L837.5 108.3L839.5 108.1L841.5 107.9L843.5 107.8L845.5 107.6L847.5 107.4L849.5 107.3L851.4 107.1L853.4 106.9L855.4 106.8L857.4 106.6L859.4 106.5L861.4 106.3L863.4 106.2L865.4 106.0L867.4 105.9L869.4 105.7L871.4 105.6L873.4 105.5L875.4 105.4L877.4 105.2L879.4 105.1L881.4 105.0L883.4 104.9L885.4 104.8L887.4 104.7L889.4 104.7L891.4 104.6L893.4 104.5L895.4 104.4L897.4 104.3L899.4 104.3L900.9 104.2" fill="none" stroke="#231f20" stroke-width="2.3" stroke-linecap="round" stroke-linejoin="round"/>
<path d="M107.1 326.0L109.1 326.0L111.1 326.0L113.1 326.0L115.1 326.0L117.1 326.0L119.1 326.0L121.1 325.9L123.1 325.9L125.1 325.9L127.1 325.9L129.1 325.9L131.1 325.9L133.1 325.9L135.1 325.9L137.1 325.9L139.1 325.8L141.1 325.8L143.1 325.8L145.1 325.8L147.1 325.8L149.1 325.8L151.1 325.7L153.1 325.7L155.1 325.7L157.1 325.7L159.1 325.7L161.1 325.6L163.1 325.6L165.1 325.6L167.1 325.6L169.1 325.6L171.1 325.5L173.1 325.5L175.1 325.5L177.1 325.5L179.1 325.4L181.1 325.4L183.1 325.4L185.1 325.4L187.1 325.3L189.1 325.3L191.1 325.3L193.1 325.3L195.1 325.2L197.1 325.2L199.1 325.2L201.1 325.2L203.1 325.1L205.1 325.1L207.1 325.1L209.1 325.1L211.1 325.0L213.1 325.0L215.1 325.0L217.1 324.9L219.1 324.9L221.1 324.9L223.1 324.9L225.1 324.8L227.1 324.8L229.1 324.8L231.1 324.7L233.1 324.7L235.1 324.6L237.1 324.6L239.1 324.5L241.1 324.5L243.1 324.4L245.1 324.4L247.1 324.3L249.1 324.3L251.1 324.2L253.1 324.1L255.1 324.1L257.1 324.0L259.1 323.9L261.0 323.8L263.0 323.7L265.0 323.6L267.0 323.5L269.0 323.3L271.0 323.2L273.0 323.1L275.0 322.9L277.0 322.8L279.0 322.6L281.0 322.4L283.0 322.3L285.0 322.1L287.0 321.9L289.0 321.7L291.0 321.5L292.9 321.3L294.9 321.1L296.9 320.9L298.9 320.6L300.9 320.4L302.9 320.2L304.9 320.0L306.9 319.7L308.8 319.5L310.8 319.2L312.8 319.0L314.8 318.7L316.8 318.5L318.8 318.2L320.7 317.9L322.7 317.7L324.7 317.4L326.7 317.1L328.7 316.8L330.6 316.6L332.6 316.3L334.6 316.0L336.6 315.7L338.6 315.4L340.5 315.1L342.5 314.8L344.5 314.5L346.5 314.1L348.4 313.8L350.4 313.5L352.4 313.1L354.4 312.8L356.3 312.5L358.3 312.1L360.3 311.7L362.2 311.3L364.2 311.0L366.1 310.5L368.1 310.1L370.0 309.7L372.0 309.3L373.9 308.8L375.9 308.3L377.8 307.8L379.8 307.3L381.7 306.8L383.6 306.3L385.5 305.7L387.5 305.2L389.4 304.6L391.3 304.0L393.2 303.4L395.1 302.8L397.0 302.1L398.9 301.5L400.8 300.9L402.7 300.2L404.6 299.5L406.4 298.9L408.3 298.2L410.2 297.5L412.1 296.8L413.9 296.1L415.8 295.4L417.7 294.7L419.5 293.9L421.4 293.2L423.3 292.5L425.1 291.7L427.0 291.0L428.8 290.2L430.7 289.4L432.5 288.6L434.3 287.8L436.1 287.0L438.0 286.1L439.8 285.3L441.6 284.4L443.4 283.5L445.2 282.6L446.9 281.7L448.7 280.8L450.5 279.9L452.2 278.9L454.0 277.9L455.7 276.9L457.4 275.9L459.1 274.9L460.9 273.8L462.6 272.8L464.2 271.7L465.9 270.7L467.6 269.6L469.3 268.5L471.0 267.4L472.6 266.3L474.3 265.1L475.9 264.0L477.6 262.9L479.2 261.8L480.9 260.6L482.5 259.5L484.1 258.3L485.8 257.2L487.4 256.0L489.0 254.8L490.6 253.7L492.3 252.5L493.9 251.3L495.5 250.1L497.1 249.0L498.7 247.8L500.4 246.6L502.0 245.4L503.6 244.2L505.2 243.1L506.8 241.9L508.4 240.7L510.0 239.5L511.6 238.3L513.3 237.1L514.9 236.0L516.5 234.8L518.1 233.6L519.7 232.4L521.3 231.2L522.9 230.0L524.5 228.8L526.1 227.6L527.7 226.4L529.3 225.2L530.9 224.0L532.5 222.8L534.1 221.6L535.7 220.4L537.3 219.2L538.9 217.9L540.4 216.7L542.0 215.5L543.6 214.3L545.2 213.0L546.8 211.8L548.3 210.6L549.9 209.4L551.5 208.1L553.1 206.9L554.7 205.7L556.3 204.5L557.9 203.3L559.5 202.1L561.1 200.9L562.7 199.7L564.3 198.6L566.0 197.4L567.6 196.3L569.2 195.1L570.9 194.0L572.6 192.9L574.2 191.8L575.9 190.7L577.6 189.7L579.3 188.6L581.0 187.6L582.7 186.6L584.5 185.5L586.2 184.5L587.9 183.6L589.7 182.6L591.4 181.6L593.2 180.7L595.0 179.7L596.8 178.8L598.5 177.9L600.3 177.0L602.1 176.1L603.9 175.3L605.7 174.4L607.5 173.5L609.3 172.7L611.1 171.8L613.0 171.0L614.8 170.2L616.6 169.4L618.4 168.5L620.3 167.7L622.1 166.9L623.9 166.1L625.8 165.3L627.6 164.6L629.4 163.8L631.3 163.0L633.1 162.2L635.0 161.4L636.8 160.6L638.6 159.9L640.5 159.1L642.3 158.3L644.2 157.5L646.0 156.7L647.9 156.0L649.7 155.2L651.6 154.4L653.4 153.7L655.3 152.9L657.1 152.2L659.0 151.4L660.8 150.7L662.7 149.9L664.5 149.2L666.4 148.5L668.3 147.8L670.2 147.1L672.0 146.4L673.9 145.7L675.8 145.1L677.7 144.4L679.6 143.8L681.5 143.2L683.4 142.6L685.3 142.0L687.2 141.4L689.1 140.8L691.1 140.3L693.0 139.7L694.9 139.2L696.8 138.7L698.8 138.1L700.7 137.6L702.7 137.2L704.6 136.7L706.5 136.2L708.5 135.7L710.4 135.3L712.4 134.8L714.3 134.4L716.3 133.9L718.2 133.5L720.2 133.0L722.1 132.6L724.1 132.2L726.0 131.8L728.0 131.4L730.0 131.0L731.9 130.6L733.9 130.2L735.8 129.8L737.8 129.4L739.8 129.1L741.7 128.7L743.7 128.3L745.7 128.0L747.6 127.6L749.6 127.3L751.6 127.0L753.6 126.6L755.5 126.3L757.5 126.0L759.5 125.7L761.5 125.4L763.4 125.1L765.4 124.8L767.4 124.5L769.4 124.2L771.4 124.0L773.3 123.7L775.3 123.4L777.3 123.2L779.3 122.9L781.3 122.7L783.3 122.4L785.2 122.2L787.2 121.9L789.2 121.7L791.2 121.4L793.2 121.2L795.2 121.0L797.2 120.7L799.1 120.5L801.1 120.3L803.1 120.0L805.1 119.8L807.1 119.6L809.1 119.3L811.1 119.1L813.1 118.9L815.0 118.7L817.0 118.4L819.0 118.2L821.0 118.0L823.0 117.8L825.0 117.6L827.0 117.4L829.0 117.2L831.0 117.0L832.9 116.8L834.9 116.6L836.9 116.4L838.9 116.2L840.9 116.0L842.9 115.8L844.9 115.6L846.9 115.5L848.9 115.3L850.9 115.1L852.9 115.0L854.9 114.8L856.8 114.6L858.8 114.5L860.8 114.3L862.8 114.2L864.8 114.0L866.8 113.9L868.8 113.8L870.8 113.6L872.8 113.5L874.8 113.3L876.8 113.2L878.8 113.1L880.8 112.9L882.8 112.8L884.8 112.7L886.8 112.5L888.8 112.4L890.8 112.3L892.8 112.1L894.8 112.0L896.7 111.9L898.7 111.7L900.7 111.6L900.8 111.6" fill="none" stroke="#231f20" stroke-width="2.3" stroke-linecap="round" stroke-linejoin="round"/>
<path d="M107.0 377.6L109.0 377.5L111.0 377.5L113.0 377.4L115.0 377.3L117.0 377.3L119.0 377.2L121.0 377.1L123.0 377.1L125.0 377.0L127.0 376.9L129.0 376.9L131.0 376.8L133.0 376.7L135.0 376.7L137.0 376.6L139.0 376.6L141.0 376.5L143.0 376.4L145.0 376.4L147.0 376.3L149.0 376.3L151.0 376.2L153.0 376.2L155.0 376.1L157.0 376.0L159.0 376.0L161.0 375.9L163.0 375.9L165.0 375.8L167.0 375.8L169.0 375.7L171.0 375.7L173.0 375.6L175.0 375.6L177.0 375.5L179.0 375.5L181.0 375.4L183.0 375.4L185.0 375.4L187.0 375.3L189.0 375.3L191.0 375.2L193.0 375.2L195.0 375.2L197.0 375.1L199.0 375.1L201.0 375.0L203.0 375.0L205.0 375.0L207.0 374.9L209.0 374.9L211.0 374.9L213.0 374.9L215.0 374.8L217.0 374.8L219.0 374.8L221.0 374.7L223.0 374.7L225.0 374.7L227.0 374.6L229.0 374.6L231.0 374.6L233.0 374.5L235.0 374.5L237.0 374.5L239.0 374.4L241.0 374.4L243.0 374.3L245.0 374.3L247.0 374.2L249.0 374.2L251.0 374.1L253.0 374.0L255.0 373.9L257.0 373.9L259.0 373.8L261.0 373.7L263.0 373.6L265.0 373.5L267.0 373.4L269.0 373.3L271.0 373.1L273.0 373.0L275.0 372.9L277.0 372.8L279.0 372.6L281.0 372.5L282.9 372.3L284.9 372.2L286.9 372.0L288.9 371.8L290.9 371.7L292.9 371.5L294.9 371.3L296.9 371.2L298.9 371.0L300.9 370.8L302.9 370.6L304.9 370.4L306.9 370.2L308.8 370.0L310.8 369.8L312.8 369.6L314.8 369.4L316.8 369.2L318.8 368.9L320.8 368.7L322.8 368.4L324.7 368.2L326.7 367.9L328.7 367.6L330.7 367.4L332.7 367.1L334.6 366.8L336.6 366.5L338.6 366.1L340.6 365.8L342.5 365.5L344.5 365.1L346.5 364.8L348.4 364.4L350.4 364.0L352.4 363.6L354.3 363.2L356.3 362.8L358.2 362.4L360.2 362.0L362.1 361.6L364.1 361.1L366.0 360.7L368.0 360.2L369.9 359.7L371.9 359.2L373.8 358.7L375.7 358.2L377.7 357.6L379.6 357.1L381.5 356.5L383.4 356.0L385.3 355.4L387.2 354.8L389.1 354.2L391.0 353.5L392.9 352.9L394.8 352.2L396.7 351.5L398.6 350.9L400.4 350.1L402.3 349.4L404.2 348.7L406.0 348.0L407.9 347.2L409.7 346.4L411.6 345.6L413.4 344.8L415.2 344.0L417.1 343.2L418.9 342.4L420.7 341.5L422.5 340.6L424.3 339.8L426.1 338.9L427.8 337.9L429.6 337.0L431.4 336.1L433.1 335.1L434.9 334.1L436.6 333.1L438.3 332.1L440.0 331.1L441.7 330.0L443.4 329.0L445.1 327.9L446.8 326.8L448.5 325.7L450.1 324.6L451.8 323.5L453.4 322.3L455.0 321.2L456.7 320.0L458.3 318.8L459.9 317.6L461.4 316.4L463.0 315.1L464.6 313.9L466.1 312.6L467.7 311.4L469.2 310.1L470.7 308.8L472.3 307.5L473.8 306.2L475.3 304.8L476.7 303.5L478.2 302.1L479.7 300.8L481.1 299.4L482.6 298.0L484.0 296.6L485.5 295.3L486.9 293.9L488.3 292.5L489.7 291.0L491.2 289.6L492.6 288.2L494.0 286.8L495.4 285.4L496.8 283.9L498.2 282.5L499.6 281.1L501.0 279.6L502.4 278.2L503.8 276.8L505.2 275.3L506.6 273.9L508.0 272.5L509.4 271.1L510.8 269.6L512.2 268.2L513.6 266.8L515.0 265.4L516.4 263.9L517.8 262.5L519.2 261.1L520.6 259.7L522.0 258.3L523.5 256.9L524.9 255.5L526.3 254.1L527.7 252.7L529.2 251.2L530.6 249.8L532.0 248.4L533.4 247.0L534.9 245.6L536.3 244.2L537.7 242.8L539.2 241.5L540.6 240.1L542.0 238.7L543.5 237.3L544.9 235.9L546.3 234.5L547.8 233.1L549.2 231.7L550.7 230.3L552.1 229.0L553.6 227.6L555.0 226.2L556.5 224.8L557.9 223.5L559.4 222.1L560.9 220.8L562.4 219.4L563.8 218.1L565.3 216.8L566.8 215.4L568.3 214.1L569.9 212.8L571.4 211.5L572.9 210.2L574.5 209.0L576.0 207.7L577.6 206.5L579.2 205.2L580.8 204.0L582.4 202.8L584.0 201.7L585.6 200.5L587.2 199.3L588.9 198.2L590.6 197.1L592.2 196.0L593.9 194.9L595.6 193.9L597.3 192.8L599.0 191.8L600.7 190.7L602.5 189.7L604.2 188.8L605.9 187.8L607.7 186.8L609.5 185.9L611.2 184.9L613.0 184.0L614.8 183.1L616.6 182.2L618.4 181.3L620.1 180.4L621.9 179.5L623.7 178.7L625.6 177.8L627.4 176.9L629.2 176.1L631.0 175.3L632.8 174.4L634.6 173.6L636.4 172.7L638.2 171.9L640.1 171.1L641.9 170.2L643.7 169.4L645.5 168.6L647.4 167.8L649.2 166.9L651.0 166.1L652.8 165.3L654.7 164.5L656.5 163.7L658.3 162.9L660.2 162.1L662.0 161.3L663.8 160.6L665.7 159.8L667.5 159.0L669.4 158.3L671.3 157.5L673.1 156.8L675.0 156.1L676.9 155.4L678.7 154.7L680.6 154.1L682.5 153.4L684.4 152.8L686.3 152.1L688.2 151.5L690.1 150.9L692.0 150.3L693.9 149.7L695.9 149.2L697.8 148.6L699.7 148.1L701.6 147.5L703.6 147.0L705.5 146.5L707.4 146.0L709.4 145.5L711.3 145.0L713.3 144.5L715.2 144.1L717.1 143.6L719.1 143.1L721.0 142.7L723.0 142.3L724.9 141.8L726.9 141.4L728.9 141.0L730.8 140.6L732.8 140.1L734.7 139.7L736.7 139.3L738.6 138.9L740.6 138.6L742.6 138.2L744.5 137.8L746.5 137.4L748.5 137.1L750.4 136.7L752.4 136.3L754.4 136.0L756.3 135.6L758.3 135.3L760.3 134.9L762.2 134.6L764.2 134.3L766.2 133.9L768.2 133.6L770.1 133.3L772.1 133.0L774.1 132.7L776.1 132.4L778.0 132.1L780.0 131.8L782.0 131.5L784.0 131.2L786.0 130.9L787.9 130.6L789.9 130.4L791.9 130.1L793.9 129.8L795.9 129.6L797.9 129.3L799.8 129.1L801.8 128.8L803.8 128.6L805.8 128.3L807.8 128.1L809.8 127.9L811.8 127.6L813.7 127.4L815.7 127.2L817.7 126.9L819.7 126.7L821.7 126.5L823.7 126.3L825.7 126.1L827.7 125.9L829.6 125.7L831.6 125.4L833.6 125.2L835.6 125.0L837.6 124.8L839.6 124.6L841.6 124.4L843.6 124.2L845.6 124.0L847.5 123.8L849.5 123.6L851.5 123.5L853.5 123.3L855.5 123.1L857.5 122.9L859.5 122.7L861.5 122.6L863.5 122.4L865.5 122.3L867.5 122.1L869.5 122.0L871.5 121.8L873.5 121.7L875.5 121.6L877.5 121.4L879.4 121.3L881.4 121.2L883.4 121.1L885.4 121.0L887.4 120.9L889.4 120.8L891.4 120.8L893.4 120.7L895.4 120.6L897.4 120.5L899.4 120.5L900.8 120.4" fill="none" stroke="#231f20" stroke-width="2.3" stroke-linecap="round" stroke-linejoin="round"/>
<path d="M107.0 455.7L109.0 455.6L111.0 455.5L113.0 455.4L115.0 455.3L117.0 455.2L119.0 455.1L121.0 455.0L123.0 455.0L125.0 454.9L127.0 454.8L129.0 454.7L131.0 454.6L133.0 454.5L135.0 454.4L137.0 454.3L139.0 454.3L141.0 454.2L143.0 454.1L145.0 454.0L147.0 453.9L149.0 453.9L151.0 453.8L153.0 453.7L155.0 453.6L157.0 453.6L159.0 453.5L161.0 453.4L163.0 453.4L165.0 453.3L167.0 453.2L169.0 453.2L171.0 453.1L173.0 453.0L175.0 453.0L177.0 452.9L179.0 452.8L181.0 452.8L183.0 452.7L185.0 452.7L187.0 452.6L189.0 452.6L191.0 452.5L193.0 452.5L195.0 452.4L197.0 452.4L199.0 452.4L201.0 452.3L203.0 452.3L205.0 452.3L207.0 452.2L209.0 452.2L211.0 452.2L213.0 452.1L215.0 452.1L217.0 452.1L219.0 452.0L221.0 452.0L223.0 452.0L225.0 451.9L227.0 451.9L229.0 451.9L231.0 451.8L233.0 451.8L235.0 451.7L237.0 451.7L239.0 451.6L241.0 451.5L242.9 451.5L244.9 451.4L246.9 451.3L248.9 451.2L250.9 451.1L252.9 450.9L254.9 450.8L256.9 450.7L258.9 450.5L260.9 450.4L262.9 450.2L264.9 450.0L266.9 449.8L268.9 449.6L270.9 449.5L272.9 449.3L274.9 449.0L276.8 448.8L278.8 448.6L280.8 448.4L282.8 448.2L284.8 448.0L286.8 447.8L288.8 447.5L290.8 447.3L292.7 447.1L294.7 446.9L296.7 446.6L298.7 446.4L300.7 446.2L302.7 445.9L304.7 445.7L306.6 445.5L308.6 445.2L310.6 444.9L312.6 444.7L314.6 444.4L316.6 444.1L318.5 443.9L320.5 443.6L322.5 443.3L324.5 443.0L326.4 442.6L328.4 442.3L330.4 442.0L332.4 441.6L334.3 441.3L336.3 440.9L338.3 440.5L340.2 440.1L342.2 439.7L344.1 439.3L346.1 438.9L348.1 438.5L350.0 438.1L352.0 437.6L353.9 437.2L355.9 436.7L357.8 436.2L359.7 435.8L361.7 435.3L363.6 434.8L365.5 434.3L367.5 433.7L369.4 433.2L371.3 432.6L373.2 432.1L375.2 431.5L377.1 430.9L379.0 430.3L380.9 429.6L382.8 429.0L384.6 428.3L386.5 427.6L388.4 426.9L390.3 426.2L392.1 425.5L394.0 424.7L395.8 423.9L397.6 423.1L399.5 422.3L401.3 421.5L403.1 420.7L404.9 419.8L406.7 418.9L408.5 418.0L410.3 417.1L412.0 416.1L413.8 415.2L415.5 414.2L417.3 413.2L419.0 412.2L420.7 411.2L422.4 410.1L424.1 409.1L425.8 408.0L427.4 406.9L429.1 405.7L430.7 404.6L432.4 403.4L434.0 402.3L435.6 401.1L437.2 399.8L438.7 398.6L440.3 397.4L441.9 396.1L443.4 394.8L444.9 393.5L446.4 392.2L447.9 390.9L449.4 389.5L450.9 388.2L452.3 386.8L453.8 385.5L455.2 384.1L456.7 382.7L458.1 381.3L459.5 379.8L460.9 378.4L462.3 377.0L463.6 375.5L465.0 374.0L466.4 372.6L467.7 371.1L469.0 369.6L470.4 368.1L471.7 366.6L473.0 365.1L474.3 363.5L475.5 362.0L476.8 360.4L478.1 358.9L479.3 357.3L480.6 355.8L481.8 354.2L483.0 352.6L484.2 351.0L485.4 349.4L486.7 347.8L487.9 346.2L489.1 344.6L490.3 343.0L491.4 341.4L492.6 339.8L493.8 338.2L495.0 336.6L496.2 335.0L497.3 333.3L498.5 331.7L499.6 330.1L500.8 328.4L501.9 326.8L503.1 325.2L504.2 323.5L505.3 321.9L506.4 320.2L507.6 318.5L508.7 316.9L509.8 315.2L510.9 313.6L512.0 311.9L513.1 310.2L514.2 308.6L515.3 306.9L516.4 305.2L517.5 303.5L518.6 301.9L519.7 300.2L520.8 298.5L521.9 296.9L523.1 295.2L524.2 293.6L525.3 291.9L526.4 290.2L527.5 288.6L528.6 286.9L529.7 285.3L530.9 283.6L532.0 282.0L533.1 280.3L534.3 278.7L535.4 277.0L536.6 275.4L537.7 273.8L538.9 272.1L540.1 270.5L541.3 268.9L542.5 267.3L543.7 265.7L544.9 264.1L546.1 262.6L547.4 261.0L548.6 259.4L549.9 257.9L551.1 256.3L552.4 254.8L553.7 253.2L554.9 251.7L556.2 250.1L557.5 248.6L558.8 247.1L560.1 245.6L561.4 244.0L562.7 242.5L564.0 241.0L565.3 239.5L566.7 238.0L568.0 236.5L569.3 235.0L570.7 233.6L572.0 232.1L573.4 230.6L574.8 229.2L576.2 227.7L577.6 226.3L579.0 224.9L580.4 223.5L581.8 222.1L583.3 220.7L584.8 219.4L586.2 218.0L587.7 216.7L589.2 215.3L590.7 214.0L592.2 212.7L593.8 211.5L595.3 210.2L596.9 208.9L598.5 207.7L600.1 206.5L601.6 205.3L603.3 204.1L604.9 202.9L606.5 201.8L608.1 200.6L609.8 199.5L611.4 198.4L613.1 197.3L614.8 196.2L616.5 195.1L618.2 194.0L619.9 193.0L621.6 191.9L623.3 190.9L625.0 189.9L626.8 188.9L628.5 187.9L630.3 187.0L632.0 186.0L633.8 185.1L635.5 184.1L637.3 183.2L639.1 182.3L640.9 181.4L642.7 180.5L644.5 179.6L646.3 178.7L648.1 177.8L649.9 177.0L651.7 176.1L653.5 175.3L655.3 174.5L657.1 173.6L659.0 172.8L660.8 172.0L662.6 171.3L664.5 170.5L666.3 169.7L668.2 169.0L670.0 168.2L671.9 167.5L673.8 166.8L675.6 166.1L677.5 165.4L679.4 164.7L681.3 164.1L683.2 163.4L685.1 162.8L687.0 162.2L688.9 161.6L690.8 161.0L692.7 160.4L694.6 159.8L696.6 159.3L698.5 158.7L700.4 158.2L702.3 157.6L704.3 157.1L706.2 156.6L708.1 156.1L710.1 155.5L712.0 155.0L713.9 154.5L715.9 154.1L717.8 153.6L719.7 153.1L721.7 152.6L723.6 152.1L725.6 151.6L727.5 151.2L729.5 150.7L731.4 150.2L733.3 149.8L735.3 149.3L737.2 148.9L739.2 148.4L741.1 148.0L743.1 147.6L745.1 147.1L747.0 146.7L749.0 146.3L750.9 145.9L752.9 145.5L754.8 145.1L756.8 144.7L758.8 144.3L760.7 144.0L762.7 143.6L764.7 143.3L766.6 142.9L768.6 142.6L770.6 142.2L772.6 141.9L774.5 141.6L776.5 141.3L778.5 141.0L780.5 140.7L782.4 140.4L784.4 140.1L786.4 139.8L788.4 139.5L790.4 139.2L792.3 139.0L794.3 138.7L796.3 138.4L798.3 138.2L800.3 137.9L802.3 137.7L804.2 137.4L806.2 137.2L808.2 136.9L810.2 136.7L812.2 136.4L814.2 136.2L816.1 136.0L818.1 135.7L820.1 135.5L822.1 135.3L824.1 135.1L826.1 134.8L828.1 134.6L830.1 134.4L832.0 134.2L834.0 134.0L836.0 133.8L838.0 133.6L840.0 133.4L842.0 133.2L844.0 133.0L846.0 132.8L848.0 132.6L850.0 132.4L852.0 132.2L853.9 132.0L855.9 131.9L857.9 131.7L859.9 131.5L861.9 131.4L863.9 131.2L865.9 131.1L867.9 130.9L869.9 130.8L871.9 130.6L873.9 130.5L875.9 130.4L877.9 130.3L879.9 130.2L881.9 130.1L883.9 129.9L885.9 129.8L887.9 129.8L889.9 129.7L891.9 129.6L893.9 129.5L895.9 129.4L897.9 129.3L899.9 129.3L901.0 129.2" fill="none" stroke="#231f20" stroke-width="2.3" stroke-linecap="round" stroke-linejoin="round"/>
<path d="M107.1 594.2L109.1 594.2L111.1 594.2L113.1 594.1L115.1 594.1L117.1 594.1L119.1 594.1L121.1 594.1L123.1 594.1L125.1 594.0L127.1 594.0L129.1 594.0L131.1 594.0L133.1 593.9L135.1 593.9L137.1 593.9L139.1 593.9L141.1 593.8L143.1 593.8L145.1 593.8L147.1 593.7L149.1 593.7L151.1 593.7L153.1 593.6L155.1 593.6L157.1 593.6L159.1 593.5L161.1 593.5L163.1 593.5L165.1 593.4L167.1 593.4L169.1 593.3L171.1 593.3L173.1 593.3L175.1 593.2L177.1 593.2L179.1 593.1L181.1 593.1L183.1 593.0L185.1 593.0L187.1 592.9L189.1 592.9L191.1 592.8L193.1 592.7L195.1 592.7L197.1 592.6L199.1 592.6L201.1 592.5L203.1 592.4L205.1 592.4L207.1 592.3L209.0 592.3L211.0 592.2L213.0 592.1L215.0 592.1L217.0 592.0L219.0 591.9L221.0 591.9L223.0 591.8L225.0 591.7L227.0 591.7L229.0 591.6L231.0 591.5L233.0 591.4L235.0 591.4L237.0 591.3L239.0 591.2L241.0 591.1L243.0 591.0L245.0 590.9L247.0 590.8L249.0 590.7L251.0 590.6L253.0 590.5L255.0 590.4L257.0 590.2L259.0 590.1L261.0 589.9L263.0 589.7L265.0 589.6L267.0 589.4L269.0 589.2L270.9 589.0L272.9 588.8L274.9 588.5L276.9 588.3L278.9 588.0L280.9 587.8L282.9 587.5L284.8 587.2L286.8 586.9L288.8 586.7L290.8 586.4L292.8 586.1L294.7 585.7L296.7 585.4L298.7 585.1L300.7 584.8L302.6 584.5L304.6 584.2L306.6 583.8L308.5 583.5L310.5 583.1L312.5 582.8L314.5 582.4L316.4 582.1L318.4 581.7L320.3 581.3L322.3 580.9L324.3 580.5L326.2 580.1L328.2 579.7L330.1 579.2L332.1 578.7L334.0 578.3L335.9 577.8L337.9 577.2L339.8 576.7L341.7 576.2L343.6 575.6L345.6 575.0L347.5 574.4L349.4 573.8L351.3 573.1L353.1 572.5L355.0 571.8L356.9 571.1L358.8 570.4L360.6 569.7L362.5 569.0L364.4 568.2L366.2 567.4L368.0 566.7L369.9 565.9L371.7 565.0L373.5 564.2L375.3 563.4L377.2 562.5L379.0 561.7L380.8 560.8L382.5 559.9L384.3 559.0L386.1 558.1L387.9 557.2L389.6 556.2L391.4 555.3L393.2 554.3L394.9 553.3L396.7 552.4L398.4 551.4L400.1 550.4L401.9 549.4L403.6 548.3L405.3 547.3L407.0 546.3L408.7 545.2L410.4 544.1L412.1 543.0L413.7 541.9L415.4 540.8L417.0 539.7L418.7 538.6L420.3 537.4L422.0 536.3L423.6 535.1L425.2 533.9L426.8 532.7L428.4 531.5L429.9 530.2L431.5 529.0L433.0 527.7L434.6 526.4L436.1 525.2L437.6 523.8L439.1 522.5L440.6 521.2L442.1 519.8L443.5 518.5L445.0 517.1L446.4 515.7L447.8 514.3L449.2 512.8L450.6 511.4L452.0 509.9L453.3 508.5L454.7 507.0L456.0 505.5L457.3 504.0L458.6 502.4L459.8 500.9L461.1 499.3L462.3 497.7L463.5 496.2L464.7 494.6L465.9 492.9L467.1 491.3L468.2 489.7L469.4 488.0L470.5 486.4L471.6 484.7L472.7 483.0L473.8 481.3L474.8 479.7L475.9 477.9L476.9 476.2L478.0 474.5L479.0 472.8L480.0 471.1L481.0 469.3L481.9 467.6L482.9 465.8L483.9 464.1L484.8 462.3L485.8 460.6L486.7 458.8L487.6 457.0L488.5 455.2L489.4 453.5L490.3 451.7L491.2 449.9L492.1 448.1L492.9 446.3L493.8 444.5L494.6 442.6L495.5 440.8L496.3 439.0L497.1 437.2L497.9 435.3L498.7 433.5L499.5 431.7L500.3 429.8L501.0 428.0L501.8 426.1L502.5 424.3L503.3 422.4L504.0 420.5L504.7 418.7L505.4 416.8L506.0 414.9L506.7 413.0L507.4 411.1L508.0 409.2L508.6 407.3L509.3 405.4L509.9 403.5L510.5 401.6L511.0 399.7L511.6 397.8L512.2 395.9L512.7 394.0L513.3 392.0L513.9 390.1L514.4 388.2L515.0 386.3L515.5 384.3L516.0 382.4L516.6 380.5L517.1 378.6L517.7 376.7L518.3 374.7L518.8 372.8L519.4 370.9L520.0 369.0L520.5 367.1L521.1 365.2L521.7 363.2L522.3 361.3L522.9 359.4L523.5 357.5L524.1 355.6L524.7 353.7L525.4 351.8L526.0 349.9L526.6 348.0L527.2 346.1L527.9 344.2L528.5 342.3L529.1 340.4L529.8 338.5L530.4 336.6L531.1 334.7L531.7 332.8L532.4 331.0L533.1 329.1L533.7 327.2L534.4 325.3L535.1 323.4L535.8 321.6L536.5 319.7L537.2 317.8L538.0 316.0L538.7 314.1L539.5 312.3L540.2 310.4L541.0 308.6L541.8 306.7L542.6 304.9L543.4 303.1L544.2 301.2L545.1 299.4L545.9 297.6L546.8 295.8L547.6 294.0L548.5 292.2L549.4 290.4L550.4 288.7L551.3 286.9L552.3 285.1L553.2 283.4L554.2 281.6L555.2 279.9L556.2 278.2L557.3 276.5L558.3 274.8L559.4 273.1L560.4 271.4L561.5 269.7L562.6 268.0L563.7 266.4L564.9 264.7L566.0 263.1L567.2 261.5L568.3 259.8L569.5 258.2L570.7 256.6L571.9 255.0L573.2 253.4L574.4 251.9L575.6 250.3L576.9 248.7L578.1 247.2L579.4 245.7L580.7 244.1L582.0 242.6L583.3 241.1L584.6 239.6L586.0 238.1L587.3 236.6L588.7 235.2L590.1 233.7L591.5 232.3L592.9 230.9L594.3 229.4L595.7 228.0L597.1 226.6L598.6 225.3L600.1 223.9L601.6 222.6L603.1 221.3L604.6 220.0L606.1 218.7L607.6 217.4L609.2 216.1L610.8 214.9L612.3 213.7L613.9 212.5L615.6 211.3L617.2 210.1L618.8 209.0L620.5 207.8L622.1 206.7L623.8 205.6L625.5 204.5L627.2 203.5L628.9 202.4L630.6 201.4L632.3 200.3L634.0 199.3L635.7 198.3L637.5 197.3L639.2 196.3L641.0 195.4L642.7 194.4L644.5 193.5L646.3 192.6L648.0 191.6L649.8 190.7L651.6 189.8L653.4 188.9L655.2 188.0L657.0 187.2L658.8 186.3L660.6 185.5L662.4 184.6L664.2 183.8L666.1 183.0L667.9 182.1L669.7 181.3L671.5 180.5L673.4 179.8L675.2 179.0L677.1 178.2L678.9 177.5L680.8 176.7L682.6 176.0L684.5 175.2L686.4 174.5L688.2 173.8L690.1 173.1L692.0 172.4L693.9 171.8L695.8 171.1L697.7 170.4L699.5 169.8L701.4 169.1L703.3 168.5L705.2 167.9L707.1 167.3L709.0 166.7L711.0 166.1L712.9 165.5L714.8 164.9L716.7 164.3L718.6 163.8L720.5 163.2L722.5 162.7L724.4 162.1L726.3 161.6L728.2 161.1L730.2 160.5L732.1 160.0L734.0 159.5L736.0 159.1L737.9 158.6L739.9 158.1L741.8 157.6L743.8 157.2L745.7 156.8L747.7 156.3L749.6 155.9L751.6 155.5L753.5 155.1L755.5 154.7L757.5 154.3L759.4 153.9L761.4 153.6L763.4 153.2L765.3 152.8L767.3 152.5L769.3 152.2L771.2 151.8L773.2 151.5L775.2 151.2L777.2 150.9L779.1 150.6L781.1 150.3L783.1 150.0L785.1 149.7L787.1 149.4L789.0 149.2L791.0 148.9L793.0 148.6L795.0 148.3L797.0 148.1L799.0 147.8L800.9 147.6L802.9 147.3L804.9 147.0L806.9 146.8L808.9 146.5L810.9 146.3L812.8 146.0L814.8 145.8L816.8 145.6L818.8 145.3L820.8 145.1L822.8 144.9L824.8 144.6L826.7 144.4L828.7 144.2L830.7 144.0L832.7 143.8L834.7 143.6L836.7 143.3L838.7 143.2L840.7 143.0L842.7 142.8L844.7 142.6L846.6 142.4L848.6 142.2L850.6 142.0L852.6 141.9L854.6 141.7L856.6 141.5L858.6 141.4L860.6 141.2L862.6 141.0L864.6 140.9L866.6 140.7L868.6 140.5L870.6 140.4L872.5 140.2L874.5 140.0L876.5 139.9L878.5 139.7L880.5 139.5L882.5 139.3L884.5 139.2L886.5 139.0L888.5 138.8L890.5 138.6L892.5 138.5L894.5 138.3L896.5 138.1L898.4 137.9L900.4 137.7L900.7 137.7" fill="none" stroke="#231f20" stroke-width="2.3" stroke-linecap="round" stroke-linejoin="round"/>
<path d="M107.1 989.9L109.1 989.9L111.1 989.9L113.1 990.0L115.1 990.0L117.1 990.0L119.1 990.0L121.1 990.1L123.1 990.1L125.1 990.1L127.1 990.1L129.1 990.2L131.1 990.2L133.1 990.2L135.1 990.3L137.1 990.3L139.1 990.3L141.1 990.3L143.1 990.4L145.1 990.4L147.1 990.4L149.1 990.5L151.1 990.5L153.1 990.5L155.1 990.6L157.1 990.6L159.1 990.6L161.1 990.7L163.1 990.7L165.1 990.7L167.1 990.8L169.1 990.8L171.1 990.8L173.1 990.9L175.1 990.9L177.1 991.0L179.1 991.0L181.1 991.0L183.1 991.1L185.1 991.1L187.1 991.2L189.1 991.2L191.1 991.2L193.1 991.3L195.1 991.3L197.1 991.4L199.1 991.4L201.1 991.4L203.1 991.5L205.1 991.5L207.1 991.6L209.1 991.6L211.1 991.6L213.1 991.7L215.1 991.7L217.1 991.8L219.1 991.8L221.1 991.8L223.1 991.9L225.1 991.9L227.1 992.0L229.1 992.0L231.1 992.0L233.0 992.1L235.0 992.1L237.0 992.1L239.0 992.2L241.0 992.2L243.0 992.3L245.0 992.3L247.0 992.3L249.0 992.4L251.0 992.4L253.0 992.5L255.0 992.5L257.0 992.5L259.0 992.6L261.0 992.6L263.0 992.7L265.0 992.7L267.0 992.8L269.0 992.8L271.0 992.9L273.0 992.9L275.0 993.0L277.0 993.0L279.0 993.1L281.0 993.1L283.0 993.2L285.0 993.2L287.0 993.3L289.0 993.3L291.0 993.4L293.0 993.4L295.0 993.5L297.0 993.5L299.0 993.5L301.0 993.6L303.0 993.6L305.0 993.6L307.0 993.7L309.0 993.7L311.0 993.7L313.0 993.7L315.0 993.8L317.0 993.8L319.0 993.8L321.0 993.8L323.0 993.8L325.0 993.8L327.0 993.7L329.0 993.7L331.0 993.7L333.0 993.7L335.0 993.7L337.0 993.7L339.0 993.6L341.0 993.6L343.0 993.6L345.0 993.5L347.0 993.5L349.0 993.5L351.0 993.4L353.0 993.4L355.0 993.3L357.0 993.3L359.0 993.3L361.0 993.2L363.0 993.2L365.0 993.1L367.0 993.1L369.0 993.0L371.0 992.9L373.0 992.9L375.0 992.8L377.0 992.7L379.0 992.6L381.0 992.5L383.0 992.4L385.0 992.3L387.0 992.2L389.0 992.1L391.0 992.0L393.0 991.9L395.0 991.7L397.0 991.6L399.0 991.5L401.0 991.3L403.0 991.2L405.0 991.0L407.0 990.9L409.0 990.7L411.0 990.6L412.9 990.5L414.9 990.3L416.9 990.2L418.9 990.0L420.9 989.9L422.9 989.7L424.9 989.6L426.9 989.5L428.9 989.3L430.9 989.2L432.9 989.1L434.9 989.0L436.9 988.8L438.9 988.7L440.9 988.6L442.9 988.5L444.9 988.4L446.9 988.2L448.9 988.1L450.9 988.0L452.9 987.9L454.9 987.7L456.9 987.6L458.9 987.5L460.8 987.3L462.8 987.2L464.8 987.1L466.8 986.9L468.8 986.8L470.8 986.6L472.8 986.5L474.8 986.3L476.8 986.2L478.8 986.0L480.8 985.8L482.8 985.7L484.8 985.5L486.8 985.4L488.8 985.2L490.8 985.1L492.8 984.9L494.7 984.8L496.7 984.6L498.7 984.5L500.7 984.3L502.7 984.2L504.7 984.0L506.7 983.9L508.7 983.8L510.7 983.7L512.7 983.5L514.7 983.4L516.7 983.3L518.7 983.2L520.7 983.0L522.7 982.9L524.7 982.8L526.7 982.7L528.7 982.6L530.7 982.5L532.7 982.3L534.7 982.2L536.7 982.1L538.7 982.0L540.7 981.9L542.7 981.8L544.6 981.6L546.6 981.5L548.6 981.4L550.6 981.3L552.6 981.2L554.6 981.1L556.6 981.0L558.6 980.9L560.6 980.8L562.6 980.6L564.6 980.5L566.6 980.4L568.6 980.3L570.6 980.2L572.6 980.1L574.6 980.0L576.6 979.9L578.6 979.7L580.6 979.6L582.6 979.5L584.6 979.4L586.6 979.3L588.6 979.2L590.6 979.0L592.6 978.9L594.6 978.8L596.6 978.7L598.6 978.6L600.6 978.4L602.6 978.3L604.6 978.2L606.5 978.1L608.5 978.0L610.5 977.9L612.5 977.8L614.5 977.7L616.5 977.6L618.5 977.5L620.5 977.4L622.5 977.3L624.5 977.3L626.5 977.2L628.5 977.1L630.5 977.0L632.5 977.0L634.5 976.9L636.5 976.8L638.5 976.8L640.5 976.7L642.5 976.7L644.5 976.6L646.5 976.6L648.5 976.5L650.5 976.5L652.5 976.4L654.5 976.4L656.5 976.3L658.5 976.3L660.5 976.2L662.5 976.1L664.5 976.1L666.5 976.0L668.5 976.0L670.5 975.9L672.5 975.9L674.5 975.8L676.5 975.8L678.5 975.7L680.5 975.7L682.5 975.6L684.5 975.5L686.5 975.5L688.5 975.4L690.5 975.4L692.5 975.3L694.5 975.3L696.5 975.2L698.5 975.2L700.5 975.1L702.5 975.1L704.5 975.1L706.5 975.0L708.5 975.0L710.5 974.9L712.5 974.9L714.5 974.9L716.5 974.8L718.5 974.8L720.5 974.8L722.5 974.7L724.5 974.7L726.5 974.7L728.5 974.6L730.5 974.6L732.5 974.6L734.5 974.5L736.5 974.5L738.5 974.5L740.5 974.4L742.5 974.4L744.5 974.4L746.5 974.3L748.5 974.3L750.5 974.3L752.5 974.2L754.5 974.2L756.5 974.2L758.5 974.1L760.5 974.1L762.5 974.0L764.5 974.0L766.5 974.0L768.5 973.9L770.5 973.9L772.5 973.9L774.5 973.8L776.5 973.8L778.5 973.8L780.5 973.7L782.5 973.7L784.5 973.7L786.5 973.6L788.5 973.6L790.5 973.6L792.5 973.5L794.5 973.5L796.5 973.5L798.5 973.5L800.5 973.4L802.5 973.4L804.5 973.4L806.5 973.3L808.5 973.3L810.5 973.3L812.5 973.3L814.5 973.2L816.5 973.2L818.5 973.2L820.5 973.1L822.5 973.1L824.5 973.1L826.5 973.1L828.5 973.0L830.5 973.0L832.5 973.0L834.5 972.9L836.5 972.9L838.5 972.9L840.5 972.8L842.5 972.8L844.5 972.8L846.5 972.8L848.5 972.7L850.5 972.7L852.5 972.7L854.5 972.7L856.5 972.7L858.5 972.7L860.5 972.6L862.5 972.6L864.5 972.6L866.5 972.6L868.5 972.6L870.5 972.6L872.5 972.6L874.5 972.6L876.5 972.6L878.5 972.6L880.5 972.6L882.5 972.6L884.5 972.6L886.5 972.6L888.5 972.6L890.5 972.6L892.5 972.6L894.5 972.6L896.5 972.6L898.5 972.6L900.5 972.6L902.5 972.6L904.5 972.6L906.5 972.6L908.5 972.6L910.5 972.6L912.5 972.6L914.5 972.6L916.5 972.6L918.5 972.6L920.5 972.6L922.5 972.6L924.5 972.6L926.5 972.6L928.5 972.6L930.5 972.6L932.5 972.6L934.3 972.6" fill="none" stroke="#231f20" stroke-width="2.3" stroke-linecap="round" stroke-linejoin="round"/>
<path d="M107.1 1009.0L109.1 1009.0L111.1 1009.0L113.1 1009.1L115.1 1009.1L117.1 1009.1L119.1 1009.2L121.1 1009.2L123.1 1009.2L125.1 1009.2L127.1 1009.3L129.1 1009.3L131.1 1009.3L133.1 1009.3L135.1 1009.4L137.1 1009.4L139.1 1009.4L141.1 1009.5L143.1 1009.5L145.1 1009.5L147.1 1009.6L149.1 1009.6L151.1 1009.6L153.1 1009.7L155.1 1009.7L157.1 1009.7L159.1 1009.8L161.1 1009.8L163.1 1009.9L165.1 1009.9L167.1 1009.9L169.1 1010.0L171.1 1010.0L173.1 1010.1L175.1 1010.1L177.1 1010.2L179.1 1010.2L181.1 1010.2L183.1 1010.3L185.1 1010.3L187.1 1010.4L189.1 1010.4L191.1 1010.5L193.1 1010.5L195.1 1010.5L197.1 1010.6L199.1 1010.6L201.1 1010.7L203.1 1010.7L205.1 1010.7L207.1 1010.8L209.1 1010.8L211.1 1010.8L213.1 1010.9L215.1 1010.9L217.1 1010.9L219.1 1011.0L221.1 1011.0L223.1 1011.0L225.1 1011.0L227.1 1011.1L229.1 1011.1L231.1 1011.1L233.1 1011.1L235.1 1011.1L237.1 1011.1L239.1 1011.2L241.1 1011.2L243.1 1011.2L245.1 1011.2L247.1 1011.2L249.1 1011.2L251.1 1011.2L253.1 1011.2L255.1 1011.2L257.1 1011.2L259.1 1011.2L261.1 1011.2L263.1 1011.2L265.1 1011.1L267.1 1011.1L269.0 1011.1L271.0 1011.1L273.0 1011.1L275.0 1011.1L277.0 1011.1L279.0 1011.0L281.0 1011.0L283.0 1011.0L285.0 1011.0L287.0 1010.9L289.0 1010.9L291.0 1010.9L293.0 1010.9L295.0 1010.8L297.0 1010.8L299.0 1010.7L301.0 1010.7L303.0 1010.6L305.0 1010.6L307.0 1010.5L309.0 1010.5L311.0 1010.4L313.0 1010.3L315.0 1010.3L317.0 1010.2L319.0 1010.1L321.0 1010.0L323.0 1009.9L325.0 1009.8L327.0 1009.7L329.0 1009.6L331.0 1009.5L333.0 1009.4L335.0 1009.3L337.0 1009.2L339.0 1009.1L341.0 1009.0L343.0 1008.9L345.0 1008.8L347.0 1008.7L349.0 1008.6L351.0 1008.5L353.0 1008.4L355.0 1008.3L357.0 1008.2L359.0 1008.1L361.0 1008.0L363.0 1007.9L365.0 1007.8L367.0 1007.7L369.0 1007.6L371.0 1007.5L373.0 1007.4L375.0 1007.3L377.0 1007.2L379.0 1007.1L381.0 1007.0L383.0 1006.9L385.0 1006.8L386.9 1006.6L388.9 1006.5L390.9 1006.4L392.9 1006.2L394.9 1006.1L396.9 1005.9L398.9 1005.8L400.9 1005.6L402.9 1005.4L404.9 1005.3L406.9 1005.1L408.9 1004.9L410.9 1004.7L412.9 1004.6L414.9 1004.4L416.8 1004.2L418.8 1004.0L420.8 1003.8L422.8 1003.6L424.8 1003.4L426.8 1003.2L428.8 1003.0L430.8 1002.8L432.8 1002.6L434.8 1002.4L436.8 1002.3L438.7 1002.1L440.7 1001.9L442.7 1001.7L444.7 1001.5L446.7 1001.3L448.7 1001.2L450.7 1001.0L452.7 1000.8L454.7 1000.7L456.7 1000.5L458.7 1000.3L460.7 1000.2L462.7 1000.0L464.6 999.9L466.6 999.7L468.6 999.5L470.6 999.4L472.6 999.2L474.6 999.1L476.6 998.9L478.6 998.7L480.6 998.6L482.6 998.4L484.6 998.2L486.6 998.0L488.6 997.9L490.6 997.7L492.6 997.5L494.5 997.3L496.5 997.2L498.5 997.0L500.5 996.8L502.5 996.6L504.5 996.4L506.5 996.3L508.5 996.1L510.5 995.9L512.5 995.7L514.5 995.6L516.5 995.4L518.5 995.2L520.4 995.1L522.4 994.9L524.4 994.7L526.4 994.6L528.4 994.4L530.4 994.3L532.4 994.2L534.4 994.0L536.4 993.9L538.4 993.7L540.4 993.6L542.4 993.5L544.4 993.4L546.4 993.2L548.4 993.1L550.4 993.0L552.4 992.9L554.4 992.8L556.4 992.6L558.4 992.5L560.4 992.4L562.4 992.3L564.3 992.2L566.3 992.0L568.3 991.9L570.3 991.8L572.3 991.7L574.3 991.6L576.3 991.4L578.3 991.3L580.3 991.2L582.3 991.1L584.3 991.0L586.3 990.8L588.3 990.7L590.3 990.6L592.3 990.4L594.3 990.3L596.3 990.2L598.3 990.0L600.3 989.9L602.3 989.8L604.3 989.6L606.3 989.5L608.3 989.4L610.3 989.3L612.3 989.1L614.2 989.0L616.2 988.9L618.2 988.7L620.2 988.6L622.2 988.5L624.2 988.4L626.2 988.3L628.2 988.1L630.2 988.0L632.2 987.9L634.2 987.8L636.2 987.7L638.2 987.6L640.2 987.5L642.2 987.4L644.2 987.3L646.2 987.2L648.2 987.1L650.2 987.0L652.2 986.9L654.2 986.8L656.2 986.7L658.2 986.6L660.2 986.5L662.2 986.4L664.2 986.3L666.2 986.2L668.2 986.2L670.2 986.1L672.2 986.0L674.2 985.9L676.2 985.8L678.2 985.8L680.2 985.7L682.2 985.6L684.2 985.5L686.2 985.5L688.2 985.4L690.2 985.3L692.2 985.3L694.2 985.2L696.2 985.1L698.2 985.1L700.1 985.0L702.1 984.9L704.1 984.9L706.1 984.8L708.1 984.7L710.1 984.7L712.1 984.6L714.1 984.6L716.1 984.5L718.1 984.4L720.1 984.4L722.1 984.3L724.1 984.3L726.1 984.2L728.1 984.1L730.1 984.1L732.1 984.0L734.1 984.0L736.1 983.9L738.1 983.8L740.1 983.8L742.1 983.7L744.1 983.6L746.1 983.6L748.1 983.5L750.1 983.5L752.1 983.4L754.1 983.3L756.1 983.3L758.1 983.2L760.1 983.1L762.1 983.1L764.1 983.0L766.1 982.9L768.1 982.9L770.1 982.8L772.1 982.7L774.1 982.7L776.1 982.6L778.1 982.5L780.1 982.5L782.1 982.4L784.1 982.3L786.1 982.3L788.1 982.2L790.1 982.1L792.1 982.1L794.1 982.0L796.1 982.0L798.1 981.9L800.1 981.8L802.1 981.8L804.1 981.7L806.1 981.7L808.1 981.7L810.1 981.6L812.1 981.6L814.1 981.6L816.1 981.5L818.1 981.5L820.1 981.5L822.1 981.5L824.1 981.5L826.1 981.5L828.1 981.4L830.1 981.4L832.1 981.4L834.1 981.4L836.1 981.4L838.1 981.4L840.1 981.4L842.1 981.4L844.1 981.4L846.1 981.4L848.1 981.5L850.1 981.5L852.1 981.5L854.1 981.5L856.1 981.5L858.1 981.5L860.1 981.5L862.1 981.5L864.1 981.5L866.1 981.4L868.1 981.4L870.1 981.4L872.1 981.4L874.1 981.4L876.1 981.4L878.1 981.4L880.1 981.3L882.1 981.3L884.1 981.3L886.1 981.3L888.1 981.2L890.1 981.2L892.1 981.2L894.1 981.1L896.1 981.1L898.1 981.1L900.1 981.0L902.1 981.0L904.1 980.9L906.1 980.9L908.1 980.9L910.1 980.8L912.1 980.8L914.1 980.7L916.1 980.6L918.1 980.6L920.1 980.5L922.1 980.5L924.1 980.4L926.1 980.4L928.1 980.3L930.1 980.2L932.1 980.2L934.1 980.1L934.4 980.1" fill="none" stroke="#231f20" stroke-width="2.3" stroke-linecap="round" stroke-linejoin="round"/>
<path d="M107.1 1028.6L109.1 1028.7L111.1 1028.7L113.1 1028.8L115.1 1028.8L117.0 1028.9L119.0 1028.9L121.0 1029.0L123.0 1029.1L125.0 1029.1L127.0 1029.2L129.0 1029.2L131.0 1029.3L133.0 1029.3L135.0 1029.4L137.0 1029.4L139.0 1029.5L141.0 1029.5L143.0 1029.6L145.0 1029.6L147.0 1029.7L149.0 1029.7L151.0 1029.8L153.0 1029.8L155.0 1029.8L157.0 1029.9L159.0 1029.9L161.0 1030.0L163.0 1030.0L165.0 1030.1L167.0 1030.1L169.0 1030.1L171.0 1030.2L173.0 1030.2L175.0 1030.3L177.0 1030.3L179.0 1030.4L181.0 1030.4L183.0 1030.4L185.0 1030.5L187.0 1030.5L189.0 1030.6L191.0 1030.6L193.0 1030.6L195.0 1030.7L197.0 1030.7L199.0 1030.7L201.0 1030.8L203.0 1030.8L205.0 1030.9L207.0 1030.9L209.0 1030.9L211.0 1031.0L213.0 1031.0L215.0 1031.0L217.0 1031.0L219.0 1031.1L221.0 1031.1L223.0 1031.1L225.0 1031.1L227.0 1031.2L229.0 1031.2L231.0 1031.2L233.0 1031.2L235.0 1031.2L237.0 1031.2L239.0 1031.2L241.0 1031.3L243.0 1031.3L245.0 1031.2L247.0 1031.2L249.0 1031.2L251.0 1031.2L253.0 1031.2L255.0 1031.2L257.0 1031.2L259.0 1031.2L261.0 1031.1L263.0 1031.1L265.0 1031.1L267.0 1031.0L269.0 1031.0L271.0 1031.0L273.0 1030.9L275.0 1030.9L277.0 1030.8L279.0 1030.8L281.0 1030.7L283.0 1030.7L285.0 1030.6L287.0 1030.6L289.0 1030.5L291.0 1030.4L293.0 1030.3L295.0 1030.3L297.0 1030.2L299.0 1030.1L301.0 1030.0L303.0 1029.9L305.0 1029.8L307.0 1029.7L309.0 1029.6L311.0 1029.4L313.0 1029.3L315.0 1029.2L317.0 1029.0L319.0 1028.9L321.0 1028.8L323.0 1028.6L325.0 1028.5L327.0 1028.3L328.9 1028.2L330.9 1028.0L332.9 1027.9L334.9 1027.7L336.9 1027.5L338.9 1027.4L340.9 1027.2L342.9 1027.1L344.9 1026.9L346.9 1026.8L348.9 1026.7L350.9 1026.5L352.9 1026.4L354.9 1026.2L356.9 1026.1L358.9 1026.0L360.9 1025.8L362.9 1025.7L364.9 1025.6L366.8 1025.5L368.8 1025.3L370.8 1025.2L372.8 1025.0L374.8 1024.9L376.8 1024.8L378.8 1024.6L380.8 1024.5L382.8 1024.3L384.8 1024.1L386.8 1024.0L388.8 1023.8L390.8 1023.6L392.8 1023.4L394.8 1023.2L396.7 1023.0L398.7 1022.8L400.7 1022.6L402.7 1022.3L404.7 1022.1L406.7 1021.9L408.7 1021.6L410.7 1021.4L412.6 1021.2L414.6 1020.9L416.6 1020.7L418.6 1020.4L420.6 1020.2L422.6 1019.9L424.5 1019.7L426.5 1019.4L428.5 1019.2L430.5 1018.9L432.5 1018.7L434.5 1018.4L436.5 1018.2L438.4 1017.9L440.4 1017.7L442.4 1017.5L444.4 1017.2L446.4 1017.0L448.4 1016.8L450.4 1016.5L452.3 1016.3L454.3 1016.1L456.3 1015.8L458.3 1015.6L460.3 1015.4L462.3 1015.2L464.3 1015.0L466.3 1014.7L468.2 1014.5L470.2 1014.3L472.2 1014.1L474.2 1013.8L476.2 1013.6L478.2 1013.4L480.2 1013.1L482.1 1012.9L484.1 1012.7L486.1 1012.4L488.1 1012.2L490.1 1011.9L492.1 1011.7L494.1 1011.4L496.0 1011.2L498.0 1010.9L500.0 1010.7L502.0 1010.4L504.0 1010.2L506.0 1009.9L507.9 1009.7L509.9 1009.4L511.9 1009.2L513.9 1008.9L515.9 1008.6L517.9 1008.4L519.9 1008.1L521.8 1007.9L523.8 1007.7L525.8 1007.4L527.8 1007.2L529.8 1006.9L531.8 1006.7L533.8 1006.5L535.7 1006.3L537.7 1006.0L539.7 1005.8L541.7 1005.6L543.7 1005.4L545.7 1005.2L547.7 1005.0L549.7 1004.8L551.6 1004.6L553.6 1004.4L555.6 1004.2L557.6 1004.0L559.6 1003.8L561.6 1003.6L563.6 1003.4L565.6 1003.2L567.6 1003.0L569.6 1002.9L571.6 1002.7L573.6 1002.5L575.5 1002.3L577.5 1002.2L579.5 1002.0L581.5 1001.8L583.5 1001.6L585.5 1001.5L587.5 1001.3L589.5 1001.1L591.5 1001.0L593.5 1000.8L595.5 1000.7L597.5 1000.5L599.5 1000.3L601.5 1000.2L603.5 1000.0L605.4 999.9L607.4 999.7L609.4 999.6L611.4 999.5L613.4 999.3L615.4 999.2L617.4 999.1L619.4 998.9L621.4 998.8L623.4 998.7L625.4 998.6L627.4 998.4L629.4 998.3L631.4 998.2L633.4 998.1L635.4 998.0L637.4 997.9L639.4 997.7L641.4 997.6L643.4 997.5L645.4 997.4L647.4 997.3L649.4 997.2L651.4 997.1L653.4 996.9L655.4 996.8L657.3 996.7L659.3 996.6L661.3 996.5L663.3 996.3L665.3 996.2L667.3 996.1L669.3 996.0L671.3 995.8L673.3 995.7L675.3 995.6L677.3 995.4L679.3 995.3L681.3 995.2L683.3 995.1L685.3 994.9L687.3 994.8L689.3 994.7L691.3 994.6L693.3 994.5L695.3 994.4L697.3 994.3L699.3 994.2L701.3 994.1L703.3 994.0L705.3 993.9L707.3 993.8L709.3 993.8L711.3 993.7L713.3 993.6L715.3 993.6L717.3 993.5L719.3 993.4L721.3 993.4L723.3 993.3L725.3 993.2L727.3 993.2L729.3 993.1L731.3 993.1L733.3 993.0L735.2 993.0L737.2 992.9L739.2 992.9L741.2 992.8L743.2 992.7L745.2 992.7L747.2 992.6L749.2 992.6L751.2 992.5L753.2 992.4L755.2 992.4L757.2 992.3L759.2 992.2L761.2 992.2L763.2 992.1L765.2 992.0L767.2 992.0L769.2 991.9L771.2 991.8L773.2 991.7L775.2 991.7L777.2 991.6L779.2 991.5L781.2 991.4L783.2 991.4L785.2 991.3L787.2 991.2L789.2 991.1L791.2 991.0L793.2 990.9L795.2 990.9L797.2 990.8L799.2 990.7L801.2 990.6L803.2 990.5L805.2 990.5L807.2 990.4L809.2 990.3L811.2 990.2L813.2 990.1L815.2 990.1L817.2 990.0L819.2 989.9L821.2 989.8L823.2 989.8L825.2 989.7L827.2 989.6L829.2 989.6L831.2 989.5L833.2 989.4L835.2 989.4L837.2 989.3L839.2 989.3L841.2 989.2L843.2 989.2L845.2 989.1L847.2 989.1L849.2 989.0L851.2 989.0L853.2 989.0L855.2 988.9L857.2 988.9L859.2 988.9L861.2 988.8L863.2 988.8L865.2 988.8L867.2 988.8L869.2 988.8L871.2 988.8L873.2 988.8L875.2 988.8L877.2 988.8L879.2 988.8L881.2 988.8L883.2 988.8L885.2 988.8L887.2 988.8L889.2 988.8L891.2 988.8L893.2 988.8L895.2 988.8L897.2 988.8L899.2 988.8L901.2 988.8L903.2 988.8L905.2 988.8L907.2 988.8L909.2 988.9L911.2 988.9L913.2 988.9L915.2 988.9L917.2 988.9L919.2 988.9L921.2 988.9L923.2 988.9L925.2 988.9L927.2 989.0L929.2 989.0L931.2 989.0L933.2 989.0L934.2 989.0" fill="none" stroke="#231f20" stroke-width="2.3" stroke-linecap="round" stroke-linejoin="round"/>
<path d="M107.1 1052.4L109.1 1052.5L111.1 1052.5L113.1 1052.5L115.1 1052.6L117.1 1052.6L119.1 1052.7L121.1 1052.7L123.1 1052.7L125.1 1052.8L127.1 1052.8L129.1 1052.8L131.1 1052.9L133.1 1052.9L135.1 1052.9L137.1 1053.0L139.1 1053.0L141.1 1053.0L143.1 1053.1L145.1 1053.1L147.1 1053.1L149.1 1053.1L151.1 1053.2L153.1 1053.2L155.1 1053.2L157.1 1053.2L159.1 1053.2L161.1 1053.3L163.1 1053.3L165.1 1053.3L167.1 1053.3L169.1 1053.3L171.1 1053.3L173.1 1053.4L175.1 1053.4L177.1 1053.4L179.1 1053.4L181.1 1053.4L183.1 1053.4L185.1 1053.4L187.1 1053.4L189.1 1053.5L191.1 1053.5L193.1 1053.5L195.1 1053.5L197.1 1053.5L199.1 1053.5L201.1 1053.5L203.1 1053.5L205.1 1053.5L207.1 1053.5L209.1 1053.6L211.1 1053.6L213.1 1053.6L215.1 1053.6L217.1 1053.6L219.1 1053.6L221.1 1053.6L223.1 1053.6L225.1 1053.6L227.1 1053.6L229.1 1053.6L231.1 1053.6L233.1 1053.6L235.1 1053.6L237.1 1053.6L239.1 1053.6L241.1 1053.6L243.1 1053.6L245.1 1053.6L247.1 1053.6L249.1 1053.6L251.1 1053.5L253.1 1053.5L255.1 1053.5L257.1 1053.5L259.1 1053.4L261.1 1053.4L263.1 1053.3L265.1 1053.3L267.1 1053.2L269.0 1053.2L271.0 1053.1L273.0 1053.0L275.0 1052.9L277.0 1052.9L279.0 1052.8L281.0 1052.7L283.0 1052.6L285.0 1052.5L287.0 1052.4L289.0 1052.3L291.0 1052.2L293.0 1052.1L295.0 1051.9L297.0 1051.8L299.0 1051.7L301.0 1051.6L303.0 1051.4L305.0 1051.3L307.0 1051.2L309.0 1051.0L311.0 1050.9L313.0 1050.8L315.0 1050.6L317.0 1050.5L319.0 1050.3L321.0 1050.1L323.0 1050.0L324.9 1049.8L326.9 1049.6L328.9 1049.5L330.9 1049.3L332.9 1049.1L334.9 1048.9L336.9 1048.7L338.9 1048.5L340.9 1048.3L342.9 1048.1L344.9 1047.9L346.8 1047.7L348.8 1047.5L350.8 1047.3L352.8 1047.1L354.8 1046.9L356.8 1046.7L358.8 1046.5L360.8 1046.3L362.8 1046.1L364.7 1045.9L366.7 1045.7L368.7 1045.5L370.7 1045.3L372.7 1045.1L374.7 1044.8L376.7 1044.6L378.7 1044.4L380.7 1044.2L382.6 1044.0L384.6 1043.8L386.6 1043.5L388.6 1043.3L390.6 1043.0L392.6 1042.8L394.6 1042.5L396.5 1042.2L398.5 1042.0L400.5 1041.7L402.5 1041.4L404.5 1041.1L406.4 1040.8L408.4 1040.4L410.4 1040.1L412.4 1039.8L414.3 1039.5L416.3 1039.1L418.3 1038.8L420.2 1038.4L422.2 1038.1L424.2 1037.7L426.1 1037.4L428.1 1037.0L430.1 1036.7L432.0 1036.3L434.0 1036.0L436.0 1035.6L438.0 1035.3L439.9 1034.9L441.9 1034.6L443.9 1034.2L445.8 1033.9L447.8 1033.5L449.8 1033.2L451.7 1032.9L453.7 1032.5L455.7 1032.2L457.7 1031.9L459.6 1031.5L461.6 1031.2L463.6 1030.9L465.6 1030.6L467.5 1030.3L469.5 1029.9L471.5 1029.6L473.5 1029.3L475.4 1029.0L477.4 1028.7L479.4 1028.4L481.4 1028.1L483.3 1027.7L485.3 1027.4L487.3 1027.1L489.3 1026.8L491.2 1026.5L493.2 1026.2L495.2 1025.9L497.2 1025.5L499.1 1025.2L501.1 1024.9L503.1 1024.6L505.1 1024.3L507.0 1024.0L509.0 1023.7L511.0 1023.3L513.0 1023.0L514.9 1022.7L516.9 1022.4L518.9 1022.1L520.9 1021.8L522.8 1021.5L524.8 1021.2L526.8 1020.8L528.8 1020.5L530.7 1020.2L532.7 1019.9L534.7 1019.6L536.7 1019.3L538.7 1019.0L540.6 1018.7L542.6 1018.4L544.6 1018.1L546.6 1017.9L548.5 1017.6L550.5 1017.3L552.5 1017.0L554.5 1016.7L556.5 1016.5L558.4 1016.2L560.4 1015.9L562.4 1015.7L564.4 1015.4L566.4 1015.2L568.4 1014.9L570.4 1014.7L572.3 1014.5L574.3 1014.2L576.3 1014.0L578.3 1013.8L580.3 1013.6L582.3 1013.4L584.3 1013.2L586.3 1013.0L588.3 1012.8L590.2 1012.6L592.2 1012.4L594.2 1012.2L596.2 1012.0L598.2 1011.8L600.2 1011.6L602.2 1011.5L604.2 1011.3L606.2 1011.1L608.2 1010.9L610.2 1010.7L612.1 1010.6L614.1 1010.4L616.1 1010.2L618.1 1010.0L620.1 1009.8L622.1 1009.6L624.1 1009.5L626.1 1009.3L628.1 1009.1L630.1 1008.9L632.1 1008.7L634.1 1008.5L636.0 1008.3L638.0 1008.1L640.0 1008.0L642.0 1007.8L644.0 1007.6L646.0 1007.4L648.0 1007.2L650.0 1007.1L652.0 1006.9L654.0 1006.7L656.0 1006.6L658.0 1006.4L660.0 1006.2L661.9 1006.1L663.9 1005.9L665.9 1005.8L667.9 1005.7L669.9 1005.5L671.9 1005.4L673.9 1005.3L675.9 1005.1L677.9 1005.0L679.9 1004.9L681.9 1004.8L683.9 1004.6L685.9 1004.5L687.9 1004.4L689.9 1004.3L691.9 1004.2L693.9 1004.1L695.9 1003.9L697.9 1003.8L699.9 1003.7L701.9 1003.6L703.9 1003.5L705.9 1003.4L707.9 1003.2L709.9 1003.1L711.9 1003.0L713.8 1002.9L715.8 1002.8L717.8 1002.7L719.8 1002.5L721.8 1002.4L723.8 1002.3L725.8 1002.2L727.8 1002.1L729.8 1002.0L731.8 1001.9L733.8 1001.8L735.8 1001.7L737.8 1001.6L739.8 1001.5L741.8 1001.4L743.8 1001.3L745.8 1001.2L747.8 1001.1L749.8 1001.0L751.8 1000.9L753.8 1000.8L755.8 1000.8L757.8 1000.7L759.8 1000.6L761.8 1000.5L763.8 1000.4L765.8 1000.4L767.8 1000.3L769.8 1000.2L771.8 1000.2L773.8 1000.1L775.8 1000.0L777.8 1000.0L779.8 999.9L781.8 999.9L783.8 999.8L785.8 999.7L787.8 999.7L789.8 999.6L791.8 999.6L793.8 999.5L795.8 999.5L797.8 999.4L799.8 999.3L801.8 999.3L803.8 999.2L805.8 999.2L807.8 999.1L809.8 999.0L811.8 999.0L813.8 998.9L815.8 998.9L817.8 998.8L819.8 998.7L821.8 998.7L823.8 998.6L825.8 998.5L827.8 998.5L829.8 998.4L831.8 998.3L833.8 998.3L835.8 998.2L837.8 998.1L839.8 998.1L841.7 998.0L843.7 997.9L845.7 997.9L847.7 997.8L849.7 997.7L851.7 997.7L853.7 997.6L855.7 997.6L857.7 997.5L859.7 997.5L861.7 997.4L863.7 997.4L865.7 997.3L867.7 997.3L869.7 997.2L871.7 997.2L873.7 997.1L875.7 997.1L877.7 997.0L879.7 997.0L881.7 997.0L883.7 996.9L885.7 996.9L887.7 996.9L889.7 996.8L891.7 996.8L893.7 996.8L895.7 996.7L897.7 996.7L899.7 996.7L901.7 996.6L903.7 996.6L905.7 996.6L907.7 996.6L909.7 996.6L911.7 996.5L913.7 996.5L915.7 996.5L917.7 996.5L919.7 996.5L921.7 996.5L923.7 996.5L925.7 996.4L927.7 996.4L929.7 996.4L931.7 996.4L933.7 996.4L934.3 996.4" fill="none" stroke="#231f20" stroke-width="2.3" stroke-linecap="round" stroke-linejoin="round"/>
<path d="M107.1 1080.0L109.1 1080.1L111.1 1080.1L113.1 1080.2L115.1 1080.2L117.1 1080.3L119.1 1080.3L121.1 1080.4L123.1 1080.4L125.0 1080.5L127.0 1080.5L129.0 1080.6L131.0 1080.6L133.0 1080.6L135.0 1080.7L137.0 1080.7L139.0 1080.7L141.0 1080.8L143.0 1080.8L145.0 1080.8L147.0 1080.9L149.0 1080.9L151.0 1080.9L153.0 1080.9L155.0 1080.9L157.0 1080.9L159.0 1081.0L161.0 1081.0L163.0 1081.0L165.0 1081.0L167.0 1081.0L169.0 1081.0L171.0 1081.0L173.0 1081.0L175.0 1081.0L177.0 1081.0L179.0 1081.0L181.0 1081.0L183.0 1081.0L185.0 1080.9L187.0 1080.9L189.0 1080.9L191.0 1080.9L193.0 1080.9L195.0 1080.9L197.0 1080.9L199.0 1080.9L201.0 1080.8L203.0 1080.8L205.0 1080.8L207.0 1080.8L209.0 1080.8L211.0 1080.8L213.0 1080.8L215.0 1080.7L217.0 1080.7L219.0 1080.7L221.0 1080.7L223.0 1080.7L225.0 1080.7L227.0 1080.7L229.0 1080.6L231.0 1080.6L233.0 1080.6L235.0 1080.6L237.0 1080.6L239.0 1080.6L241.0 1080.5L243.0 1080.5L245.0 1080.5L247.0 1080.5L249.0 1080.5L251.0 1080.4L253.0 1080.4L255.0 1080.4L257.0 1080.3L259.0 1080.3L261.0 1080.2L263.0 1080.2L265.0 1080.1L267.0 1080.0L269.0 1079.9L271.0 1079.8L273.0 1079.7L275.0 1079.6L277.0 1079.5L279.0 1079.4L281.0 1079.2L283.0 1079.1L285.0 1079.0L287.0 1078.8L289.0 1078.6L291.0 1078.4L293.0 1078.3L295.0 1078.1L297.0 1077.9L298.9 1077.7L300.9 1077.5L302.9 1077.3L304.9 1077.0L306.9 1076.8L308.9 1076.6L310.9 1076.4L312.9 1076.1L314.8 1075.9L316.8 1075.6L318.8 1075.4L320.8 1075.1L322.8 1074.9L324.8 1074.6L326.8 1074.4L328.7 1074.1L330.7 1073.8L332.7 1073.6L334.7 1073.3L336.7 1073.0L338.6 1072.8L340.6 1072.5L342.6 1072.2L344.6 1071.9L346.6 1071.6L348.5 1071.4L350.5 1071.1L352.5 1070.8L354.5 1070.5L356.5 1070.2L358.4 1069.9L360.4 1069.7L362.4 1069.4L364.4 1069.1L366.4 1068.8L368.3 1068.5L370.3 1068.3L372.3 1068.0L374.3 1067.7L376.3 1067.4L378.2 1067.1L380.2 1066.8L382.2 1066.5L384.2 1066.2L386.1 1065.8L388.1 1065.5L390.1 1065.1L392.0 1064.8L394.0 1064.4L396.0 1064.1L397.9 1063.7L399.9 1063.3L401.9 1062.9L403.8 1062.5L405.8 1062.1L407.7 1061.6L409.7 1061.2L411.6 1060.8L413.6 1060.3L415.5 1059.9L417.5 1059.4L419.4 1059.0L421.4 1058.5L423.3 1058.1L425.3 1057.6L427.2 1057.1L429.2 1056.7L431.1 1056.2L433.1 1055.8L435.0 1055.4L437.0 1054.9L438.9 1054.5L440.9 1054.0L442.8 1053.6L444.8 1053.2L446.7 1052.8L448.7 1052.4L450.6 1051.9L452.6 1051.5L454.6 1051.1L456.5 1050.7L458.5 1050.3L460.4 1049.9L462.4 1049.5L464.3 1049.0L466.3 1048.6L468.3 1048.2L470.2 1047.8L472.2 1047.4L474.1 1046.9L476.1 1046.5L478.0 1046.1L480.0 1045.6L481.9 1045.2L483.9 1044.7L485.8 1044.3L487.8 1043.9L489.7 1043.4L491.7 1043.0L493.6 1042.5L495.6 1042.1L497.5 1041.7L499.5 1041.2L501.4 1040.8L503.4 1040.4L505.4 1040.0L507.3 1039.5L509.3 1039.1L511.2 1038.7L513.2 1038.3L515.1 1037.9L517.1 1037.5L519.1 1037.1L521.0 1036.7L523.0 1036.3L524.9 1035.9L526.9 1035.5L528.9 1035.2L530.8 1034.8L532.8 1034.4L534.8 1034.0L536.7 1033.6L538.7 1033.3L540.7 1032.9L542.6 1032.5L544.6 1032.2L546.6 1031.8L548.5 1031.5L550.5 1031.1L552.5 1030.8L554.4 1030.5L556.4 1030.1L558.4 1029.8L560.4 1029.5L562.3 1029.1L564.3 1028.8L566.3 1028.5L568.3 1028.2L570.2 1027.9L572.2 1027.6L574.2 1027.3L576.2 1027.0L578.1 1026.7L580.1 1026.5L582.1 1026.2L584.1 1025.9L586.1 1025.6L588.0 1025.3L590.0 1025.1L592.0 1024.8L594.0 1024.5L596.0 1024.3L598.0 1024.0L599.9 1023.8L601.9 1023.5L603.9 1023.3L605.9 1023.0L607.9 1022.8L609.9 1022.5L611.9 1022.3L613.8 1022.0L615.8 1021.8L617.8 1021.6L619.8 1021.3L621.8 1021.1L623.8 1020.9L625.8 1020.6L627.7 1020.4L629.7 1020.2L631.7 1020.0L633.7 1019.8L635.7 1019.5L637.7 1019.3L639.7 1019.1L641.7 1018.9L643.7 1018.7L645.6 1018.5L647.6 1018.3L649.6 1018.1L651.6 1017.9L653.6 1017.7L655.6 1017.5L657.6 1017.3L659.6 1017.1L661.6 1016.9L663.6 1016.8L665.5 1016.6L667.5 1016.4L669.5 1016.2L671.5 1016.0L673.5 1015.9L675.5 1015.7L677.5 1015.5L679.5 1015.3L681.5 1015.2L683.5 1015.0L685.5 1014.8L687.5 1014.7L689.5 1014.5L691.5 1014.4L693.4 1014.2L695.4 1014.1L697.4 1013.9L699.4 1013.8L701.4 1013.6L703.4 1013.5L705.4 1013.4L707.4 1013.2L709.4 1013.1L711.4 1013.0L713.4 1012.8L715.4 1012.7L717.4 1012.6L719.4 1012.4L721.4 1012.3L723.4 1012.2L725.4 1012.0L727.4 1011.9L729.4 1011.8L731.4 1011.7L733.4 1011.5L735.4 1011.4L737.4 1011.3L739.3 1011.2L741.3 1011.0L743.3 1010.9L745.3 1010.8L747.3 1010.7L749.3 1010.5L751.3 1010.4L753.3 1010.3L755.3 1010.2L757.3 1010.0L759.3 1009.9L761.3 1009.8L763.3 1009.7L765.3 1009.6L767.3 1009.4L769.3 1009.3L771.3 1009.2L773.3 1009.1L775.3 1009.0L777.3 1008.9L779.3 1008.8L781.3 1008.7L783.3 1008.6L785.3 1008.5L787.3 1008.4L789.3 1008.3L791.3 1008.3L793.3 1008.2L795.3 1008.1L797.3 1008.0L799.3 1007.9L801.3 1007.9L803.3 1007.8L805.3 1007.7L807.3 1007.7L809.3 1007.6L811.3 1007.5L813.3 1007.5L815.2 1007.4L817.2 1007.4L819.2 1007.3L821.2 1007.2L823.2 1007.2L825.2 1007.1L827.2 1007.1L829.2 1007.0L831.2 1007.0L833.2 1006.9L835.2 1006.9L837.2 1006.8L839.2 1006.8L841.2 1006.7L843.2 1006.7L845.2 1006.6L847.2 1006.6L849.2 1006.5L851.2 1006.5L853.2 1006.4L855.2 1006.4L857.2 1006.4L859.2 1006.3L861.2 1006.3L863.2 1006.2L865.2 1006.2L867.2 1006.2L869.2 1006.1L871.2 1006.1L873.2 1006.0L875.2 1006.0L877.2 1006.0L879.2 1005.9L881.2 1005.9L883.2 1005.9L885.2 1005.8L887.2 1005.8L889.2 1005.8L891.2 1005.7L893.2 1005.7L895.2 1005.7L897.2 1005.6L899.2 1005.6L901.2 1005.6L903.2 1005.6L905.2 1005.5L907.2 1005.5L909.2 1005.5L911.2 1005.5L913.2 1005.4L915.2 1005.4L917.2 1005.4L919.2 1005.4L921.2 1005.3L923.2 1005.3L925.2 1005.3L927.2 1005.3L929.2 1005.3L931.2 1005.2L933.2 1005.2L934.4 1005.2" fill="none" stroke="#231f20" stroke-width="2.3" stroke-linecap="round" stroke-linejoin="round"/>
<path d="M107.1 1111.7L109.1 1111.8L111.1 1112.0L113.1 1112.1L115.1 1112.3L117.1 1112.4L119.1 1112.5L121.1 1112.6L123.1 1112.7L125.1 1112.8L127.1 1112.9L129.1 1113.0L131.1 1113.0L133.1 1113.1L135.1 1113.2L137.1 1113.2L139.1 1113.2L141.1 1113.2L143.1 1113.3L145.1 1113.3L147.1 1113.3L149.1 1113.3L151.1 1113.3L153.1 1113.3L155.1 1113.3L157.1 1113.3L159.1 1113.3L161.1 1113.3L163.1 1113.3L165.1 1113.3L167.1 1113.3L169.1 1113.2L171.1 1113.2L173.1 1113.2L175.1 1113.2L177.1 1113.2L179.1 1113.2L181.1 1113.2L183.1 1113.2L185.1 1113.2L187.1 1113.2L189.1 1113.2L191.1 1113.2L193.1 1113.2L195.1 1113.2L197.1 1113.2L199.1 1113.2L201.1 1113.2L203.1 1113.2L205.1 1113.2L207.1 1113.2L209.1 1113.2L211.1 1113.2L213.1 1113.2L215.1 1113.1L217.1 1113.1L219.1 1113.1L221.1 1113.1L223.1 1113.0L225.1 1113.0L227.1 1113.0L229.1 1112.9L231.1 1112.9L233.1 1112.8L235.1 1112.8L237.1 1112.7L239.1 1112.6L241.1 1112.5L243.1 1112.4L245.1 1112.3L247.1 1112.2L249.1 1112.1L251.0 1112.0L253.0 1111.8L255.0 1111.7L257.0 1111.5L259.0 1111.4L261.0 1111.2L263.0 1111.0L265.0 1110.8L267.0 1110.7L269.0 1110.5L271.0 1110.3L273.0 1110.1L275.0 1109.9L276.9 1109.6L278.9 1109.4L280.9 1109.2L282.9 1109.0L284.9 1108.8L286.9 1108.6L288.9 1108.3L290.9 1108.1L292.8 1107.9L294.8 1107.7L296.8 1107.4L298.8 1107.2L300.8 1107.0L302.8 1106.8L304.8 1106.6L306.8 1106.3L308.7 1106.1L310.7 1105.9L312.7 1105.7L314.7 1105.4L316.7 1105.2L318.7 1105.0L320.7 1104.7L322.7 1104.5L324.6 1104.3L326.6 1104.0L328.6 1103.7L330.6 1103.5L332.6 1103.2L334.6 1102.9L336.5 1102.7L338.5 1102.4L340.5 1102.1L342.5 1101.8L344.4 1101.5L346.4 1101.2L348.4 1100.8L350.4 1100.5L352.3 1100.2L354.3 1099.8L356.3 1099.5L358.2 1099.1L360.2 1098.8L362.2 1098.4L364.1 1098.0L366.1 1097.6L368.1 1097.2L370.0 1096.9L372.0 1096.4L373.9 1096.0L375.9 1095.6L377.9 1095.2L379.8 1094.7L381.8 1094.3L383.7 1093.8L385.6 1093.4L387.6 1092.9L389.5 1092.4L391.5 1091.9L393.4 1091.4L395.3 1090.9L397.3 1090.3L399.2 1089.8L401.1 1089.3L403.0 1088.7L404.9 1088.1L406.9 1087.5L408.8 1087.0L410.7 1086.4L412.6 1085.8L414.5 1085.2L416.4 1084.6L418.3 1083.9L420.2 1083.3L422.1 1082.7L424.0 1082.1L425.9 1081.4L427.8 1080.8L429.7 1080.2L431.6 1079.6L433.5 1078.9L435.4 1078.3L437.3 1077.7L439.2 1077.0L441.1 1076.4L443.0 1075.8L444.9 1075.2L446.8 1074.6L448.7 1073.9L450.6 1073.3L452.5 1072.7L454.4 1072.1L456.3 1071.6L458.2 1071.0L460.2 1070.4L462.1 1069.8L464.0 1069.2L465.9 1068.7L467.8 1068.1L469.7 1067.5L471.7 1067.0L473.6 1066.4L475.5 1065.8L477.4 1065.3L479.3 1064.7L481.3 1064.2L483.2 1063.6L485.1 1063.0L487.0 1062.5L488.9 1061.9L490.9 1061.3L492.8 1060.8L494.7 1060.2L496.6 1059.6L498.5 1059.1L500.4 1058.5L502.4 1057.9L504.3 1057.4L506.2 1056.8L508.1 1056.3L510.0 1055.7L512.0 1055.2L513.9 1054.6L515.8 1054.1L517.8 1053.6L519.7 1053.1L521.6 1052.6L523.6 1052.0L525.5 1051.5L527.4 1051.1L529.4 1050.6L531.3 1050.1L533.3 1049.6L535.2 1049.1L537.1 1048.7L539.1 1048.2L541.0 1047.8L543.0 1047.3L544.9 1046.9L546.9 1046.4L548.8 1046.0L550.8 1045.6L552.8 1045.2L554.7 1044.8L556.7 1044.4L558.6 1044.0L560.6 1043.6L562.6 1043.2L564.5 1042.8L566.5 1042.4L568.4 1042.0L570.4 1041.7L572.4 1041.3L574.4 1041.0L576.3 1040.6L578.3 1040.3L580.3 1039.9L582.2 1039.6L584.2 1039.3L586.2 1039.0L588.2 1038.6L590.1 1038.3L592.1 1038.0L594.1 1037.7L596.1 1037.4L598.0 1037.1L600.0 1036.8L602.0 1036.5L604.0 1036.2L606.0 1035.9L607.9 1035.6L609.9 1035.4L611.9 1035.1L613.9 1034.8L615.8 1034.5L617.8 1034.2L619.8 1033.9L621.8 1033.6L623.8 1033.3L625.7 1033.1L627.7 1032.8L629.7 1032.5L631.7 1032.2L633.7 1031.9L635.6 1031.6L637.6 1031.3L639.6 1031.1L641.6 1030.8L643.6 1030.5L645.5 1030.2L647.5 1029.9L649.5 1029.6L651.5 1029.4L653.5 1029.1L655.4 1028.8L657.4 1028.5L659.4 1028.3L661.4 1028.0L663.4 1027.7L665.3 1027.5L667.3 1027.2L669.3 1026.9L671.3 1026.7L673.3 1026.4L675.3 1026.2L677.3 1026.0L679.2 1025.7L681.2 1025.5L683.2 1025.3L685.2 1025.1L687.2 1024.9L689.2 1024.6L691.2 1024.4L693.2 1024.3L695.2 1024.1L697.1 1023.9L699.1 1023.7L701.1 1023.6L703.1 1023.4L705.1 1023.2L707.1 1023.1L709.1 1023.0L711.1 1022.8L713.1 1022.7L715.1 1022.5L717.1 1022.4L719.1 1022.3L721.1 1022.2L723.1 1022.0L725.1 1021.9L727.1 1021.8L729.1 1021.7L731.1 1021.6L733.1 1021.4L735.1 1021.3L737.1 1021.2L739.1 1021.1L741.0 1021.0L743.0 1020.8L745.0 1020.7L747.0 1020.6L749.0 1020.5L751.0 1020.3L753.0 1020.2L755.0 1020.1L757.0 1020.0L759.0 1019.9L761.0 1019.7L763.0 1019.6L765.0 1019.5L767.0 1019.4L769.0 1019.3L771.0 1019.2L773.0 1019.1L775.0 1019.0L777.0 1018.9L779.0 1018.8L781.0 1018.7L783.0 1018.6L785.0 1018.6L787.0 1018.5L789.0 1018.4L791.0 1018.3L793.0 1018.3L795.0 1018.2L797.0 1018.2L799.0 1018.1L801.0 1018.0L803.0 1018.0L805.0 1017.9L807.0 1017.9L809.0 1017.8L811.0 1017.7L813.0 1017.7L815.0 1017.6L817.0 1017.6L819.0 1017.5L821.0 1017.4L823.0 1017.4L825.0 1017.3L827.0 1017.2L829.0 1017.1L831.0 1017.1L833.0 1017.0L835.0 1016.9L837.0 1016.8L838.9 1016.7L840.9 1016.7L842.9 1016.6L844.9 1016.5L846.9 1016.4L848.9 1016.3L850.9 1016.2L852.9 1016.1L854.9 1016.1L856.9 1016.0L858.9 1015.9L860.9 1015.8L862.9 1015.7L864.9 1015.7L866.9 1015.6L868.9 1015.5L870.9 1015.5L872.9 1015.4L874.9 1015.3L876.9 1015.3L878.9 1015.2L880.9 1015.1L882.9 1015.1L884.9 1015.0L886.9 1014.9L888.9 1014.9L890.9 1014.8L892.9 1014.8L894.9 1014.7L896.9 1014.7L898.9 1014.6L900.9 1014.6L902.9 1014.5L904.9 1014.5L906.9 1014.4L908.9 1014.4L910.9 1014.3L912.9 1014.3L914.9 1014.3L916.9 1014.2L918.9 1014.2L920.9 1014.1L922.9 1014.1L924.9 1014.1L926.9 1014.0L928.9 1014.0L930.9 1014.0L932.9 1013.9L934.4 1013.9" fill="none" stroke="#231f20" stroke-width="2.3" stroke-linecap="round" stroke-linejoin="round"/>
<path d="M107.1 1152.2L109.1 1152.2L111.1 1152.2L113.1 1152.2L115.1 1152.2L117.1 1152.2L119.1 1152.2L121.1 1152.2L123.1 1152.2L125.1 1152.2L127.1 1152.2L129.1 1152.2L131.1 1152.2L133.1 1152.2L135.1 1152.2L137.1 1152.2L139.1 1152.2L141.1 1152.2L143.1 1152.2L145.1 1152.2L147.1 1152.2L149.1 1152.2L151.1 1152.2L153.1 1152.2L155.1 1152.1L157.1 1152.1L159.1 1152.1L161.1 1152.1L163.1 1152.1L165.1 1152.1L167.1 1152.1L169.1 1152.1L171.1 1152.1L173.1 1152.1L175.1 1152.1L177.1 1152.1L179.1 1152.1L181.1 1152.1L183.1 1152.1L185.1 1152.0L187.1 1152.0L189.1 1152.0L191.1 1152.0L193.1 1152.0L195.1 1151.9L197.1 1151.9L199.1 1151.9L201.1 1151.9L203.1 1151.8L205.1 1151.8L207.1 1151.7L209.1 1151.7L211.1 1151.7L213.1 1151.6L215.1 1151.6L217.1 1151.5L219.1 1151.5L221.1 1151.4L223.1 1151.3L225.1 1151.3L227.1 1151.2L229.1 1151.1L231.1 1151.1L233.1 1151.0L235.1 1150.9L237.1 1150.8L239.1 1150.7L241.0 1150.6L243.0 1150.5L245.0 1150.4L247.0 1150.3L249.0 1150.2L251.0 1150.1L253.0 1150.0L255.0 1149.9L257.0 1149.7L259.0 1149.6L261.0 1149.5L263.0 1149.3L265.0 1149.2L267.0 1149.0L269.0 1148.9L271.0 1148.7L273.0 1148.6L275.0 1148.4L277.0 1148.3L279.0 1148.1L281.0 1147.9L282.9 1147.7L284.9 1147.6L286.9 1147.4L288.9 1147.2L290.9 1147.0L292.9 1146.9L294.9 1146.7L296.9 1146.5L298.9 1146.3L300.9 1146.1L302.9 1145.9L304.9 1145.7L306.8 1145.5L308.8 1145.3L310.8 1145.1L312.8 1144.9L314.8 1144.6L316.8 1144.4L318.8 1144.2L320.8 1143.9L322.7 1143.7L324.7 1143.4L326.7 1143.1L328.7 1142.8L330.7 1142.5L332.6 1142.2L334.6 1141.8L336.6 1141.5L338.5 1141.1L340.5 1140.7L342.4 1140.3L344.4 1139.9L346.3 1139.4L348.3 1139.0L350.2 1138.5L352.2 1138.0L354.1 1137.4L356.0 1136.9L357.9 1136.3L359.8 1135.7L361.7 1135.1L363.6 1134.5L365.5 1133.8L367.4 1133.1L369.3 1132.5L371.2 1131.8L373.0 1131.1L374.9 1130.3L376.8 1129.6L378.6 1128.9L380.5 1128.1L382.3 1127.4L384.2 1126.6L386.0 1125.9L387.9 1125.1L389.7 1124.3L391.6 1123.6L393.4 1122.8L395.3 1122.0L397.1 1121.3L399.0 1120.5L400.8 1119.8L402.7 1119.0L404.5 1118.2L406.4 1117.5L408.2 1116.7L410.1 1115.9L411.9 1115.2L413.8 1114.4L415.6 1113.6L417.5 1112.9L419.3 1112.1L421.1 1111.3L423.0 1110.5L424.8 1109.8L426.7 1109.0L428.5 1108.2L430.4 1107.4L432.2 1106.6L434.0 1105.9L435.9 1105.1L437.7 1104.3L439.6 1103.5L441.4 1102.8L443.3 1102.0L445.1 1101.2L447.0 1100.4L448.8 1099.7L450.6 1098.9L452.5 1098.2L454.4 1097.4L456.2 1096.6L458.1 1095.9L459.9 1095.2L461.8 1094.4L463.6 1093.7L465.5 1092.9L467.3 1092.2L469.2 1091.5L471.1 1090.7L472.9 1090.0L474.8 1089.2L476.6 1088.5L478.5 1087.8L480.4 1087.0L482.2 1086.3L484.1 1085.6L485.9 1084.8L487.8 1084.1L489.7 1083.4L491.5 1082.6L493.4 1081.9L495.2 1081.2L497.1 1080.4L499.0 1079.7L500.8 1079.0L502.7 1078.3L504.6 1077.5L506.4 1076.8L508.3 1076.1L510.2 1075.4L512.1 1074.7L513.9 1074.1L515.8 1073.4L517.7 1072.7L519.6 1072.0L521.5 1071.4L523.4 1070.7L525.3 1070.1L527.2 1069.5L529.1 1068.8L531.0 1068.2L532.9 1067.6L534.8 1067.0L536.7 1066.4L538.6 1065.8L540.5 1065.2L542.4 1064.7L544.3 1064.1L546.3 1063.6L548.2 1063.0L550.1 1062.5L552.1 1061.9L554.0 1061.4L555.9 1060.9L557.8 1060.4L559.8 1059.9L561.7 1059.4L563.7 1058.9L565.6 1058.4L567.5 1058.0L569.5 1057.5L571.4 1057.0L573.4 1056.5L575.3 1056.1L577.3 1055.6L579.2 1055.2L581.2 1054.7L583.1 1054.3L585.1 1053.8L587.0 1053.4L589.0 1052.9L590.9 1052.5L592.9 1052.1L594.8 1051.6L596.8 1051.2L598.7 1050.8L600.7 1050.4L602.6 1050.0L604.6 1049.5L606.6 1049.1L608.5 1048.7L610.5 1048.3L612.4 1047.9L614.4 1047.5L616.4 1047.1L618.3 1046.7L620.3 1046.4L622.2 1046.0L624.2 1045.6L626.2 1045.3L628.1 1044.9L630.1 1044.5L632.1 1044.2L634.0 1043.8L636.0 1043.5L638.0 1043.2L640.0 1042.8L641.9 1042.5L643.9 1042.2L645.9 1041.9L647.9 1041.5L649.8 1041.2L651.8 1040.9L653.8 1040.6L655.8 1040.3L657.7 1040.1L659.7 1039.8L661.7 1039.5L663.7 1039.2L665.7 1038.9L667.7 1038.7L669.6 1038.4L671.6 1038.2L673.6 1037.9L675.6 1037.7L677.6 1037.4L679.6 1037.2L681.5 1036.9L683.5 1036.7L685.5 1036.5L687.5 1036.2L689.5 1036.0L691.5 1035.8L693.5 1035.6L695.5 1035.4L697.4 1035.1L699.4 1034.9L701.4 1034.7L703.4 1034.5L705.4 1034.3L707.4 1034.1L709.4 1033.9L711.4 1033.7L713.4 1033.5L715.4 1033.3L717.3 1033.2L719.3 1033.0L721.3 1032.8L723.3 1032.6L725.3 1032.4L727.3 1032.3L729.3 1032.1L731.3 1031.9L733.3 1031.8L735.3 1031.6L737.3 1031.4L739.3 1031.3L741.3 1031.1L743.3 1031.0L745.2 1030.8L747.2 1030.7L749.2 1030.5L751.2 1030.4L753.2 1030.2L755.2 1030.1L757.2 1029.9L759.2 1029.8L761.2 1029.7L763.2 1029.5L765.2 1029.4L767.2 1029.3L769.2 1029.1L771.2 1029.0L773.2 1028.9L775.2 1028.8L777.2 1028.7L779.2 1028.5L781.2 1028.4L783.2 1028.3L785.2 1028.2L787.2 1028.1L789.2 1028.0L791.2 1027.9L793.1 1027.8L795.1 1027.7L797.1 1027.6L799.1 1027.5L801.1 1027.4L803.1 1027.3L805.1 1027.2L807.1 1027.1L809.1 1027.0L811.1 1026.9L813.1 1026.8L815.1 1026.7L817.1 1026.6L819.1 1026.5L821.1 1026.4L823.1 1026.4L825.1 1026.3L827.1 1026.2L829.1 1026.1L831.1 1026.0L833.1 1026.0L835.1 1025.9L837.1 1025.8L839.1 1025.7L841.1 1025.6L843.1 1025.6L845.1 1025.5L847.1 1025.4L849.1 1025.4L851.1 1025.3L853.1 1025.2L855.1 1025.2L857.1 1025.1L859.1 1025.0L861.1 1025.0L863.1 1024.9L865.1 1024.8L867.1 1024.8L869.1 1024.7L871.1 1024.7L873.1 1024.6L875.1 1024.6L877.1 1024.5L879.1 1024.5L881.1 1024.4L883.1 1024.3L885.1 1024.3L887.1 1024.2L889.1 1024.2L891.1 1024.1L893.1 1024.1L895.1 1024.1L897.1 1024.0L899.1 1024.0L901.1 1023.9L903.1 1023.9L905.1 1023.8L907.1 1023.8L909.1 1023.7L911.1 1023.7L913.1 1023.7L915.1 1023.6L917.1 1023.6L919.1 1023.6L921.1 1023.5L923.1 1023.5L925.1 1023.5L927.1 1023.4L929.1 1023.4L931.1 1023.4L933.1 1023.3L934.3 1023.3" fill="none" stroke="#231f20" stroke-width="2.3" stroke-linecap="round" stroke-linejoin="round"/>
<path d="M107.1 1209.0L109.1 1209.0L111.1 1209.0L113.1 1209.0L115.1 1209.0L117.1 1209.0L119.1 1209.0L121.1 1209.0L123.1 1209.0L125.1 1209.0L127.1 1209.0L129.1 1209.0L131.1 1209.0L133.1 1209.0L135.1 1209.0L137.1 1209.0L139.1 1209.0L141.1 1209.0L143.1 1209.0L145.1 1209.0L147.1 1209.0L149.1 1209.1L151.1 1209.1L153.1 1209.1L155.1 1209.1L157.1 1209.1L159.1 1209.1L161.1 1209.1L163.1 1209.1L165.1 1209.1L167.1 1209.1L169.1 1209.1L171.1 1209.1L173.1 1209.0L175.1 1209.0L177.1 1209.0L179.1 1209.0L181.1 1209.0L183.1 1208.9L185.1 1208.9L187.1 1208.8L189.1 1208.8L191.1 1208.7L193.1 1208.7L195.1 1208.6L197.1 1208.5L199.1 1208.4L201.1 1208.4L203.1 1208.3L205.1 1208.2L207.1 1208.0L209.0 1207.9L211.0 1207.8L213.0 1207.7L215.0 1207.6L217.0 1207.4L219.0 1207.3L221.0 1207.2L223.0 1207.0L225.0 1206.9L227.0 1206.7L229.0 1206.6L231.0 1206.4L233.0 1206.3L235.0 1206.1L237.0 1206.0L239.0 1205.8L241.0 1205.7L243.0 1205.5L245.0 1205.3L246.9 1205.2L248.9 1205.0L250.9 1204.8L252.9 1204.6L254.9 1204.5L256.9 1204.3L258.9 1204.0L260.9 1203.8L262.9 1203.6L264.9 1203.4L266.8 1203.1L268.8 1202.9L270.8 1202.6L272.8 1202.3L274.8 1202.0L276.7 1201.8L278.7 1201.4L280.7 1201.1L282.7 1200.8L284.6 1200.5L286.6 1200.1L288.6 1199.8L290.6 1199.4L292.5 1199.0L294.5 1198.7L296.4 1198.3L298.4 1197.9L300.4 1197.5L302.3 1197.1L304.3 1196.6L306.2 1196.2L308.2 1195.7L310.1 1195.3L312.1 1194.8L314.0 1194.3L315.9 1193.8L317.9 1193.3L319.8 1192.8L321.7 1192.3L323.6 1191.7L325.6 1191.1L327.5 1190.6L329.4 1190.0L331.3 1189.4L333.2 1188.7L335.1 1188.1L337.0 1187.5L338.9 1186.8L340.8 1186.1L342.6 1185.5L344.5 1184.8L346.4 1184.1L348.3 1183.4L350.1 1182.7L352.0 1182.0L353.9 1181.2L355.7 1180.5L357.6 1179.8L359.5 1179.0L361.3 1178.3L363.2 1177.5L365.0 1176.7L366.9 1176.0L368.7 1175.2L370.5 1174.4L372.4 1173.6L374.2 1172.8L376.0 1172.0L377.9 1171.2L379.7 1170.4L381.5 1169.6L383.3 1168.8L385.2 1167.9L387.0 1167.1L388.8 1166.2L390.6 1165.4L392.4 1164.5L394.2 1163.7L396.0 1162.8L397.8 1161.9L399.6 1161.0L401.4 1160.1L403.2 1159.2L405.0 1158.3L406.7 1157.4L408.5 1156.5L410.3 1155.6L412.1 1154.6L413.8 1153.7L415.6 1152.8L417.3 1151.8L419.1 1150.8L420.8 1149.8L422.6 1148.8L424.3 1147.8L426.0 1146.8L427.7 1145.8L429.4 1144.7L431.1 1143.7L432.8 1142.6L434.5 1141.6L436.2 1140.5L437.9 1139.4L439.5 1138.3L441.2 1137.2L442.9 1136.1L444.5 1135.0L446.2 1133.9L447.9 1132.7L449.5 1131.6L451.2 1130.5L452.8 1129.4L454.5 1128.3L456.2 1127.2L457.8 1126.1L459.5 1125.0L461.2 1123.9L462.9 1122.8L464.6 1121.7L466.2 1120.7L467.9 1119.6L469.6 1118.5L471.3 1117.5L473.0 1116.4L474.7 1115.4L476.5 1114.4L478.2 1113.3L479.9 1112.3L481.6 1111.3L483.3 1110.3L485.1 1109.3L486.8 1108.3L488.5 1107.3L490.3 1106.3L492.0 1105.3L493.8 1104.3L495.5 1103.4L497.3 1102.4L499.0 1101.5L500.8 1100.5L502.6 1099.6L504.3 1098.7L506.1 1097.8L507.9 1096.9L509.7 1096.0L511.5 1095.1L513.3 1094.3L515.1 1093.4L517.0 1092.6L518.8 1091.8L520.6 1091.0L522.4 1090.2L524.3 1089.4L526.1 1088.6L528.0 1087.9L529.8 1087.1L531.7 1086.4L533.6 1085.7L535.4 1085.0L537.3 1084.3L539.2 1083.6L541.1 1082.9L543.0 1082.2L544.8 1081.6L546.7 1080.9L548.6 1080.3L550.5 1079.6L552.4 1079.0L554.3 1078.3L556.2 1077.7L558.1 1077.1L560.0 1076.5L561.9 1075.9L563.8 1075.3L565.7 1074.7L567.6 1074.1L569.5 1073.5L571.5 1072.9L573.4 1072.3L575.3 1071.7L577.2 1071.1L579.1 1070.6L581.0 1070.0L583.0 1069.5L584.9 1068.9L586.8 1068.3L588.7 1067.8L590.7 1067.3L592.6 1066.7L594.5 1066.2L596.4 1065.7L598.4 1065.1L600.3 1064.6L602.2 1064.1L604.2 1063.6L606.1 1063.1L608.0 1062.6L610.0 1062.2L611.9 1061.7L613.9 1061.2L615.8 1060.7L617.8 1060.3L619.7 1059.8L621.7 1059.4L623.6 1059.0L625.6 1058.5L627.5 1058.1L629.5 1057.7L631.4 1057.3L633.4 1056.9L635.4 1056.5L637.3 1056.1L639.3 1055.7L641.2 1055.3L643.2 1054.9L645.2 1054.6L647.1 1054.2L649.1 1053.9L651.1 1053.5L653.1 1053.2L655.0 1052.8L657.0 1052.5L659.0 1052.1L660.9 1051.8L662.9 1051.5L664.9 1051.2L666.9 1050.9L668.8 1050.6L670.8 1050.2L672.8 1049.9L674.8 1049.6L676.7 1049.4L678.7 1049.1L680.7 1048.8L682.7 1048.5L684.7 1048.2L686.6 1048.0L688.6 1047.7L690.6 1047.4L692.6 1047.2L694.6 1046.9L696.6 1046.7L698.5 1046.4L700.5 1046.2L702.5 1045.9L704.5 1045.7L706.5 1045.4L708.5 1045.2L710.5 1045.0L712.5 1044.8L714.4 1044.6L716.4 1044.3L718.4 1044.1L720.4 1043.9L722.4 1043.7L724.4 1043.5L726.4 1043.3L728.4 1043.1L730.4 1042.9L732.3 1042.7L734.3 1042.5L736.3 1042.3L738.3 1042.1L740.3 1041.9L742.3 1041.7L744.3 1041.6L746.3 1041.4L748.3 1041.2L750.3 1041.0L752.3 1040.8L754.3 1040.7L756.2 1040.5L758.2 1040.3L760.2 1040.2L762.2 1040.0L764.2 1039.8L766.2 1039.7L768.2 1039.5L770.2 1039.3L772.2 1039.2L774.2 1039.0L776.2 1038.9L778.2 1038.7L780.2 1038.6L782.2 1038.5L784.2 1038.3L786.2 1038.2L788.1 1038.1L790.1 1037.9L792.1 1037.8L794.1 1037.7L796.1 1037.6L798.1 1037.4L800.1 1037.3L802.1 1037.2L804.1 1037.1L806.1 1037.0L808.1 1036.9L810.1 1036.8L812.1 1036.7L814.1 1036.6L816.1 1036.5L818.1 1036.4L820.1 1036.3L822.1 1036.2L824.1 1036.2L826.1 1036.1L828.1 1036.0L830.1 1035.9L832.1 1035.9L834.1 1035.8L836.1 1035.7L838.1 1035.7L840.1 1035.6L842.1 1035.5L844.1 1035.5L846.1 1035.4L848.1 1035.3L850.1 1035.3L852.1 1035.2L854.1 1035.1L856.1 1035.1L858.1 1035.0L860.1 1035.0L862.1 1034.9L864.1 1034.8L866.1 1034.8L868.1 1034.7L870.1 1034.7L872.1 1034.6L874.1 1034.5L876.1 1034.5L878.1 1034.4L880.1 1034.3L882.1 1034.3L884.1 1034.2L886.1 1034.2L888.1 1034.1L890.1 1034.0L892.1 1034.0L894.1 1033.9L896.1 1033.8L898.1 1033.8L900.1 1033.7L902.1 1033.6L904.1 1033.6L906.1 1033.5L908.1 1033.4L910.1 1033.4L912.1 1033.3L914.1 1033.3L916.1 1033.2L918.0 1033.1L920.0 1033.1L922.0 1033.0L924.0 1032.9L926.0 1032.9L928.0 1032.8L930.0 1032.7L932.0 1032.7L934.0 1032.6L934.4 1032.6" fill="none" stroke="#231f20" stroke-width="2.3" stroke-linecap="round" stroke-linejoin="round"/>
<path d="M107.1 1287.9L109.1 1287.9L111.1 1287.9L113.1 1287.9L115.1 1287.9L117.1 1287.9L119.1 1287.9L121.1 1287.9L123.1 1287.9L125.1 1287.9L127.1 1287.9L129.1 1287.9L131.1 1287.9L133.1 1287.9L135.1 1287.9L137.1 1287.9L139.1 1287.9L141.1 1287.9L143.1 1287.9L145.1 1288.0L147.1 1288.0L149.1 1288.0L151.1 1288.0L153.1 1288.0L155.1 1288.0L157.1 1288.0L159.1 1288.0L161.1 1288.0L163.1 1288.0L165.1 1288.0L167.1 1288.0L169.1 1288.0L171.1 1288.0L173.1 1288.0L175.1 1288.0L177.1 1287.9L179.1 1287.9L181.1 1287.9L183.1 1287.9L185.1 1287.8L187.1 1287.8L189.1 1287.7L191.1 1287.6L193.1 1287.5L195.1 1287.4L197.1 1287.3L199.1 1287.2L201.1 1287.1L203.1 1287.0L205.0 1286.9L207.0 1286.7L209.0 1286.5L211.0 1286.4L213.0 1286.2L215.0 1286.0L217.0 1285.8L219.0 1285.6L221.0 1285.4L223.0 1285.2L225.0 1285.0L226.9 1284.8L228.9 1284.5L230.9 1284.3L232.9 1284.1L234.9 1283.8L236.9 1283.6L238.9 1283.3L240.8 1283.0L242.8 1282.8L244.8 1282.5L246.8 1282.2L248.8 1281.9L250.7 1281.6L252.7 1281.3L254.7 1281.0L256.7 1280.7L258.6 1280.4L260.6 1280.0L262.6 1279.7L264.5 1279.3L266.5 1279.0L268.5 1278.6L270.5 1278.3L272.4 1277.9L274.4 1277.5L276.3 1277.1L278.3 1276.7L280.3 1276.3L282.2 1275.9L284.2 1275.5L286.1 1275.0L288.1 1274.6L290.0 1274.1L292.0 1273.7L293.9 1273.2L295.9 1272.7L297.8 1272.2L299.7 1271.7L301.6 1271.2L303.6 1270.6L305.5 1270.1L307.4 1269.5L309.3 1268.9L311.2 1268.3L313.1 1267.6L315.0 1267.0L316.9 1266.3L318.8 1265.6L320.6 1264.9L322.5 1264.2L324.4 1263.5L326.2 1262.7L328.1 1262.0L329.9 1261.2L331.8 1260.4L333.6 1259.6L335.4 1258.8L337.2 1258.0L339.1 1257.2L340.9 1256.3L342.7 1255.5L344.5 1254.6L346.3 1253.7L348.1 1252.9L349.9 1252.0L351.7 1251.1L353.5 1250.2L355.3 1249.3L357.0 1248.4L358.8 1247.5L360.6 1246.5L362.3 1245.6L364.1 1244.6L365.8 1243.7L367.6 1242.7L369.3 1241.7L371.1 1240.7L372.8 1239.7L374.5 1238.7L376.2 1237.6L377.9 1236.6L379.6 1235.5L381.3 1234.4L383.0 1233.3L384.6 1232.2L386.3 1231.1L387.9 1229.9L389.5 1228.8L391.2 1227.6L392.8 1226.4L394.4 1225.2L396.0 1224.0L397.5 1222.8L399.1 1221.5L400.7 1220.3L402.2 1219.0L403.7 1217.7L405.3 1216.4L406.8 1215.1L408.3 1213.8L409.8 1212.5L411.3 1211.2L412.8 1209.8L414.2 1208.5L415.7 1207.1L417.2 1205.7L418.6 1204.4L420.1 1203.0L421.5 1201.6L423.0 1200.2L424.4 1198.9L425.9 1197.5L427.3 1196.1L428.7 1194.7L430.1 1193.2L431.5 1191.8L433.0 1190.4L434.4 1189.0L435.8 1187.6L437.2 1186.1L438.5 1184.7L439.9 1183.2L441.3 1181.8L442.7 1180.4L444.1 1178.9L445.4 1177.5L446.8 1176.0L448.2 1174.5L449.6 1173.1L450.9 1171.6L452.3 1170.2L453.7 1168.7L455.1 1167.3L456.5 1165.8L457.9 1164.4L459.3 1163.0L460.7 1161.6L462.1 1160.2L463.5 1158.7L464.9 1157.4L466.4 1156.0L467.8 1154.6L469.3 1153.2L470.8 1151.9L472.2 1150.5L473.7 1149.2L475.2 1147.9L476.7 1146.6L478.3 1145.3L479.8 1144.0L481.3 1142.7L482.8 1141.4L484.4 1140.1L485.9 1138.8L487.5 1137.6L489.0 1136.3L490.6 1135.1L492.2 1133.8L493.7 1132.6L495.3 1131.4L496.9 1130.1L498.5 1128.9L500.1 1127.7L501.7 1126.5L503.3 1125.3L504.9 1124.2L506.5 1123.0L508.2 1121.8L509.8 1120.7L511.5 1119.6L513.1 1118.5L514.8 1117.4L516.5 1116.3L518.2 1115.2L519.9 1114.2L521.6 1113.2L523.3 1112.2L525.1 1111.2L526.8 1110.2L528.6 1109.2L530.3 1108.3L532.1 1107.4L533.9 1106.5L535.7 1105.6L537.5 1104.7L539.3 1103.8L541.1 1103.0L542.9 1102.2L544.7 1101.3L546.6 1100.5L548.4 1099.7L550.2 1098.9L552.1 1098.1L553.9 1097.3L555.7 1096.5L557.6 1095.8L559.4 1095.0L561.3 1094.2L563.1 1093.5L565.0 1092.7L566.9 1092.0L568.7 1091.3L570.6 1090.6L572.5 1089.8L574.3 1089.1L576.2 1088.4L578.1 1087.7L580.0 1087.1L581.8 1086.4L583.7 1085.7L585.6 1085.1L587.5 1084.4L589.4 1083.8L591.3 1083.1L593.2 1082.5L595.1 1081.9L597.0 1081.3L598.9 1080.6L600.8 1080.0L602.7 1079.5L604.6 1078.9L606.5 1078.3L608.5 1077.7L610.4 1077.2L612.3 1076.6L614.2 1076.1L616.2 1075.5L618.1 1075.0L620.0 1074.5L621.9 1074.0L623.9 1073.5L625.8 1073.0L627.8 1072.5L629.7 1072.0L631.6 1071.5L633.6 1071.0L635.5 1070.5L637.5 1070.1L639.4 1069.6L641.4 1069.2L643.3 1068.7L645.3 1068.3L647.2 1067.9L649.2 1067.4L651.1 1067.0L653.1 1066.6L655.0 1066.2L657.0 1065.8L659.0 1065.4L660.9 1065.0L662.9 1064.6L664.9 1064.3L666.8 1063.9L668.8 1063.5L670.8 1063.2L672.7 1062.8L674.7 1062.5L676.7 1062.1L678.6 1061.8L680.6 1061.5L682.6 1061.2L684.6 1060.8L686.5 1060.5L688.5 1060.2L690.5 1059.9L692.5 1059.6L694.4 1059.3L696.4 1059.0L698.4 1058.7L700.4 1058.5L702.4 1058.2L704.3 1057.9L706.3 1057.7L708.3 1057.4L710.3 1057.1L712.3 1056.9L714.3 1056.6L716.2 1056.4L718.2 1056.1L720.2 1055.9L722.2 1055.7L724.2 1055.4L726.2 1055.2L728.2 1055.0L730.1 1054.7L732.1 1054.5L734.1 1054.3L736.1 1054.1L738.1 1053.9L740.1 1053.6L742.1 1053.4L744.1 1053.2L746.1 1053.0L748.0 1052.8L750.0 1052.6L752.0 1052.4L754.0 1052.2L756.0 1052.0L758.0 1051.8L760.0 1051.6L762.0 1051.4L764.0 1051.2L766.0 1051.0L767.9 1050.8L769.9 1050.6L771.9 1050.4L773.9 1050.2L775.9 1050.1L777.9 1049.9L779.9 1049.7L781.9 1049.5L783.9 1049.4L785.9 1049.2L787.9 1049.0L789.9 1048.9L791.8 1048.7L793.8 1048.5L795.8 1048.4L797.8 1048.2L799.8 1048.1L801.8 1047.9L803.8 1047.8L805.8 1047.6L807.8 1047.5L809.8 1047.4L811.8 1047.2L813.8 1047.1L815.8 1047.0L817.8 1046.9L819.8 1046.8L821.8 1046.6L823.8 1046.5L825.8 1046.4L827.8 1046.3L829.8 1046.2L831.8 1046.1L833.8 1046.0L835.8 1045.9L837.8 1045.8L839.8 1045.7L841.8 1045.6L843.8 1045.5L845.7 1045.5L847.7 1045.4L849.7 1045.3L851.7 1045.2L853.7 1045.1L855.7 1045.0L857.7 1045.0L859.7 1044.9L861.7 1044.8L863.7 1044.7L865.7 1044.7L867.7 1044.6L869.7 1044.5L871.7 1044.4L873.7 1044.4L875.7 1044.3L877.7 1044.2L879.7 1044.2L881.7 1044.1L883.7 1044.0L885.7 1043.9L887.7 1043.9L889.7 1043.8L891.7 1043.7L893.7 1043.7L895.7 1043.6L897.7 1043.6L899.7 1043.5L901.7 1043.4L903.7 1043.4L905.7 1043.3L907.7 1043.2L909.7 1043.2L911.7 1043.1L913.7 1043.1L915.7 1043.0L917.7 1043.0L919.7 1042.9L921.7 1042.8L923.7 1042.8L925.7 1042.7L927.7 1042.7L929.7 1042.6L931.7 1042.6L933.7 1042.5L934.3 1042.5" fill="none" stroke="#231f20" stroke-width="2.3" stroke-linecap="round" stroke-linejoin="round"/>
<path d="M107.1 1427.8L109.1 1427.8L111.1 1427.8L113.1 1427.8L115.1 1427.8L117.1 1427.8L119.1 1427.8L121.1 1427.8L123.1 1427.8L125.1 1427.8L127.1 1427.8L129.1 1427.8L131.1 1427.8L133.1 1427.8L135.1 1427.8L137.1 1427.7L139.1 1427.7L141.1 1427.7L143.1 1427.7L145.1 1427.7L147.1 1427.7L149.1 1427.6L151.1 1427.6L153.1 1427.6L155.1 1427.6L157.1 1427.5L159.1 1427.5L161.1 1427.5L163.1 1427.4L165.1 1427.4L167.1 1427.3L169.1 1427.2L171.1 1427.2L173.1 1427.1L175.1 1427.0L177.1 1426.9L179.1 1426.9L181.1 1426.8L183.1 1426.7L185.1 1426.5L187.0 1426.4L189.0 1426.3L191.0 1426.2L193.0 1426.0L195.0 1425.9L197.0 1425.7L199.0 1425.6L201.0 1425.4L203.0 1425.2L205.0 1425.0L207.0 1424.8L209.0 1424.6L211.0 1424.4L212.9 1424.2L214.9 1423.9L216.9 1423.7L218.9 1423.4L220.9 1423.1L222.9 1422.9L224.8 1422.6L226.8 1422.3L228.8 1422.0L230.8 1421.6L232.7 1421.3L234.7 1421.0L236.7 1420.6L238.7 1420.3L240.6 1419.9L242.6 1419.6L244.6 1419.2L246.5 1418.8L248.5 1418.5L250.4 1418.1L252.4 1417.7L254.4 1417.3L256.3 1416.8L258.3 1416.4L260.2 1416.0L262.2 1415.6L264.1 1415.1L266.1 1414.7L268.0 1414.2L270.0 1413.7L271.9 1413.3L273.9 1412.8L275.8 1412.3L277.7 1411.8L279.7 1411.3L281.6 1410.7L283.5 1410.2L285.4 1409.7L287.4 1409.1L289.3 1408.5L291.2 1407.9L293.1 1407.3L295.0 1406.7L296.9 1406.1L298.8 1405.5L300.7 1404.8L302.6 1404.2L304.5 1403.5L306.3 1402.8L308.2 1402.1L310.1 1401.4L311.9 1400.6L313.8 1399.9L315.6 1399.1L317.5 1398.4L319.3 1397.6L321.2 1396.8L323.0 1396.0L324.8 1395.1L326.6 1394.3L328.4 1393.5L330.2 1392.6L332.0 1391.7L333.8 1390.8L335.6 1389.9L337.4 1388.9L339.1 1388.0L340.9 1387.0L342.6 1386.1L344.4 1385.1L346.1 1384.0L347.8 1383.0L349.5 1382.0L351.2 1380.9L352.9 1379.8L354.5 1378.7L356.2 1377.6L357.8 1376.5L359.5 1375.3L361.1 1374.1L362.7 1373.0L364.3 1371.8L365.9 1370.6L367.5 1369.3L369.1 1368.1L370.6 1366.8L372.2 1365.6L373.7 1364.3L375.2 1363.0L376.7 1361.7L378.2 1360.3L379.7 1359.0L381.2 1357.6L382.6 1356.3L384.1 1354.9L385.5 1353.5L386.9 1352.1L388.3 1350.6L389.7 1349.2L391.0 1347.7L392.4 1346.2L393.7 1344.7L395.0 1343.2L396.3 1341.7L397.6 1340.2L398.9 1338.6L400.1 1337.1L401.4 1335.5L402.6 1333.9L403.8 1332.3L405.0 1330.7L406.1 1329.1L407.3 1327.4L408.4 1325.8L409.5 1324.1L410.7 1322.5L411.8 1320.8L412.8 1319.1L413.9 1317.4L415.0 1315.7L416.0 1314.0L417.1 1312.3L418.1 1310.6L419.1 1308.9L420.1 1307.2L421.1 1305.4L422.1 1303.7L423.1 1302.0L424.1 1300.2L425.0 1298.5L426.0 1296.7L426.9 1294.9L427.9 1293.2L428.8 1291.4L429.7 1289.6L430.6 1287.8L431.5 1286.0L432.4 1284.3L433.3 1282.5L434.2 1280.7L435.0 1278.9L435.9 1277.1L436.7 1275.2L437.6 1273.4L438.4 1271.6L439.2 1269.8L440.1 1268.0L440.9 1266.1L441.7 1264.3L442.5 1262.5L443.3 1260.7L444.1 1258.8L444.9 1257.0L445.7 1255.2L446.5 1253.3L447.3 1251.5L448.1 1249.7L448.9 1247.8L449.7 1246.0L450.5 1244.2L451.3 1242.3L452.2 1240.5L453.0 1238.7L453.8 1236.9L454.6 1235.1L455.5 1233.2L456.3 1231.4L457.2 1229.6L458.0 1227.8L458.9 1226.0L459.8 1224.2L460.6 1222.4L461.5 1220.6L462.4 1218.8L463.3 1217.1L464.3 1215.3L465.2 1213.5L466.1 1211.7L467.1 1210.0L468.1 1208.2L469.0 1206.5L470.0 1204.7L471.0 1203.0L472.0 1201.3L473.0 1199.6L474.1 1197.9L475.1 1196.1L476.2 1194.4L477.2 1192.8L478.3 1191.1L479.4 1189.4L480.5 1187.7L481.6 1186.1L482.8 1184.4L483.9 1182.8L485.1 1181.2L486.2 1179.5L487.4 1177.9L488.6 1176.3L489.8 1174.7L491.0 1173.1L492.3 1171.6L493.5 1170.0L494.8 1168.4L496.0 1166.9L497.3 1165.4L498.6 1163.8L499.9 1162.3L501.3 1160.8L502.6 1159.3L503.9 1157.8L505.3 1156.4L506.6 1154.9L508.0 1153.5L509.4 1152.0L510.8 1150.6L512.2 1149.2L513.7 1147.8L515.1 1146.4L516.5 1145.0L518.0 1143.7L519.5 1142.3L521.0 1141.0L522.5 1139.7L524.0 1138.4L525.6 1137.1L527.1 1135.9L528.7 1134.6L530.3 1133.4L531.9 1132.2L533.5 1131.0L535.1 1129.9L536.8 1128.7L538.4 1127.6L540.1 1126.5L541.8 1125.4L543.4 1124.3L545.1 1123.2L546.8 1122.2L548.5 1121.1L550.3 1120.1L552.0 1119.1L553.7 1118.1L555.4 1117.1L557.2 1116.1L558.9 1115.1L560.6 1114.1L562.4 1113.1L564.1 1112.1L565.9 1111.2L567.7 1110.2L569.4 1109.3L571.2 1108.4L573.0 1107.5L574.8 1106.6L576.6 1105.7L578.4 1104.8L580.2 1104.0L582.0 1103.1L583.8 1102.3L585.6 1101.5L587.5 1100.7L589.3 1099.9L591.1 1099.1L593.0 1098.4L594.9 1097.6L596.7 1096.9L598.6 1096.2L600.5 1095.5L602.3 1094.8L604.2 1094.1L606.1 1093.5L608.0 1092.8L609.9 1092.2L611.8 1091.5L613.7 1090.9L615.6 1090.3L617.5 1089.7L619.4 1089.1L621.3 1088.5L623.2 1087.9L625.2 1087.4L627.1 1086.8L629.0 1086.3L630.9 1085.7L632.8 1085.2L634.8 1084.6L636.7 1084.1L638.6 1083.6L640.6 1083.1L642.5 1082.6L644.4 1082.1L646.4 1081.6L648.3 1081.1L650.3 1080.7L652.2 1080.2L654.2 1079.7L656.1 1079.3L658.1 1078.9L660.0 1078.4L662.0 1078.0L663.9 1077.6L665.9 1077.2L667.8 1076.8L669.8 1076.4L671.8 1076.0L673.7 1075.6L675.7 1075.2L677.7 1074.8L679.6 1074.5L681.6 1074.1L683.6 1073.7L685.5 1073.4L687.5 1073.1L689.5 1072.7L691.4 1072.4L693.4 1072.1L695.4 1071.7L697.4 1071.4L699.3 1071.1L701.3 1070.8L703.3 1070.5L705.3 1070.2L707.2 1069.9L709.2 1069.6L711.2 1069.3L713.2 1069.1L715.2 1068.8L717.1 1068.5L719.1 1068.2L721.1 1068.0L723.1 1067.7L725.1 1067.4L727.1 1067.2L729.0 1066.9L731.0 1066.7L733.0 1066.4L735.0 1066.1L737.0 1065.9L739.0 1065.6L740.9 1065.4L742.9 1065.1L744.9 1064.9L746.9 1064.7L748.9 1064.4L750.9 1064.2L752.9 1063.9L754.8 1063.7L756.8 1063.5L758.8 1063.2L760.8 1063.0L762.8 1062.8L764.8 1062.6L766.8 1062.4L768.8 1062.2L770.7 1062.0L772.7 1061.8L774.7 1061.6L776.7 1061.4L778.7 1061.2L780.7 1061.1L782.7 1060.9L784.7 1060.7L786.7 1060.6L788.7 1060.4L790.7 1060.2L792.7 1060.1L794.7 1060.0L796.7 1059.8L798.7 1059.7L800.6 1059.5L802.6 1059.4L804.6 1059.3L806.6 1059.1L808.6 1059.0L810.6 1058.9L812.6 1058.8L814.6 1058.6L816.6 1058.5L818.6 1058.4L820.6 1058.3L822.6 1058.1L824.6 1058.0L826.6 1057.9L828.6 1057.8L830.6 1057.7L832.6 1057.5L834.6 1057.4L836.6 1057.3L838.6 1057.2L840.6 1057.1L842.6 1057.0L844.6 1056.8L846.6 1056.7L848.6 1056.6L850.6 1056.5L852.6 1056.4L854.5 1056.3L856.5 1056.2L858.5 1056.1L860.5 1056.0L862.5 1055.9L864.5 1055.8L866.5 1055.7L868.5 1055.7L870.5 1055.6L872.5 1055.5L874.5 1055.4L876.5 1055.3L878.5 1055.3L880.5 1055.2L882.5 1055.1L884.5 1055.0L886.5 1055.0L888.5 1054.9L890.5 1054.9L892.5 1054.8L894.5 1054.7L896.5 1054.7L898.5 1054.6L900.5 1054.6L902.5 1054.5L904.5 1054.5L906.5 1054.4L908.5 1054.4L910.5 1054.3L912.5 1054.3L914.5 1054.2L916.5 1054.2L918.5 1054.1L920.5 1054.1L922.5 1054.1L924.5 1054.0L926.5 1054.0L928.5 1054.0L930.5 1054.0L932.5 1053.9L934.3 1053.9" fill="none" stroke="#231f20" stroke-width="2.3" stroke-linecap="round" stroke-linejoin="round"/>
<text transform="translate(66.0 36.7) scale(1.080 1)">η</text>
<text transform="translate(499.0 34.0) scale(1.05 1)" style="font-size:40px">(a)</text>
<text transform="translate(90.0 114.5) scale(0.930 1)" text-anchor="end">1</text>
<text transform="translate(90.0 167.0) scale(0.930 1)" text-anchor="end">0.6</text>
<text transform="translate(90.0 209.0) scale(0.930 1)" text-anchor="end">0.4</text>
<text transform="translate(90.0 280.5) scale(0.930 1)" text-anchor="end">0.2</text>
<text transform="translate(90.0 350.0) scale(0.930 1)" text-anchor="end">0.1</text>
<text transform="translate(90.0 587.0) scale(0.930 1)" text-anchor="end">0.01</text>
<text transform="translate(90.0 822.0) scale(0.930 1)" text-anchor="end">0.001</text>
<text transform="translate(203.4 875.0) scale(0.930 1)" text-anchor="middle">0.1</text>
<text transform="translate(416.9 875.0) scale(0.930 1)" text-anchor="middle">0.5</text>
<text transform="translate(508.8 875.0) scale(0.930 1)" text-anchor="middle">1</text>
<text transform="translate(722.3 875.0) scale(0.930 1)" text-anchor="middle">5</text>
<text transform="translate(816.1 875.0) scale(0.930 1)" text-anchor="middle">10</text>
<text transform="translate(851.5 875.0) scale(0.970 1)">Stk</text>
<text transform="translate(249.0 149.6) scale(1.000 1) skewX(-9)" class="i">2</text>
<text transform="translate(251.5 642.0) scale(1.000 1) skewX(-9)" class="i">1</text>
<text transform="translate(66.0 951.0) scale(1.080 1)">η</text>
<text transform="translate(498.6 948.8) scale(1.0 1)" style="font-size:40px">(б)</text>
<text transform="translate(90.0 1010.6) scale(0.930 1)" text-anchor="end">1</text>
<text transform="translate(90.0 1064.3) scale(0.930 1)" text-anchor="end">0.6</text>
<text transform="translate(90.0 1106.9) scale(0.930 1)" text-anchor="end">0.4</text>
<text transform="translate(90.0 1179.8) scale(0.930 1)" text-anchor="end">0.2</text>
<text transform="translate(90.0 1252.7) scale(0.930 1)" text-anchor="end">0.1</text>
<text transform="translate(90.0 1494.8) scale(0.930 1)" text-anchor="end">0.01</text>
<text transform="translate(90.0 1736.9) scale(0.930 1)" text-anchor="end">0.001</text>
<text transform="translate(205.4 1790.0) scale(0.930 1)" text-anchor="middle">0.1</text>
<text transform="translate(427.7 1790.0) scale(0.930 1)" text-anchor="middle">0.5</text>
<text transform="translate(523.4 1790.0) scale(0.930 1)" text-anchor="middle">1</text>
<text transform="translate(745.7 1790.0) scale(0.930 1)" text-anchor="middle">5</text>
<text transform="translate(842.9 1790.0) scale(0.930 1)" text-anchor="middle">10</text>
<text transform="translate(806.0 1827.0) scale(0.970 1)">Stk</text>
<text transform="translate(245.5 980.0) scale(1.000 1) skewX(-9)" class="i">2</text>
<text transform="translate(235.5 1473.0) scale(1.000 1) skewX(-9)" class="i">1</text>
</svg></body></html>
